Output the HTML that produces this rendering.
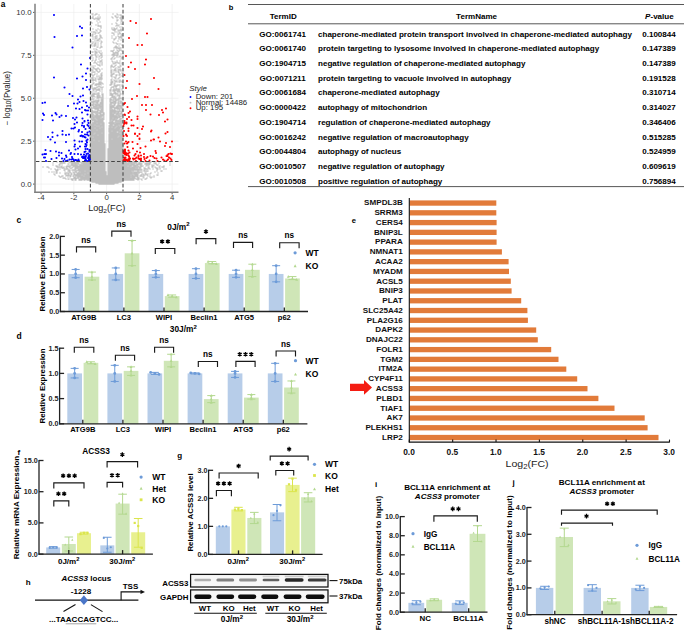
<!DOCTYPE html>
<html><head><meta charset="utf-8"><style>
html,body{margin:0;padding:0;background:#fff;width:685px;height:631px;overflow:hidden}
svg{display:block}
</style></head><body>
<svg width="685" height="631" viewBox="0 0 685 631" font-family='"Liberation Sans", sans-serif' font-weight="bold">
<rect width="685" height="631" fill="#fff"/>
<text x="0.80" y="7.00" font-size="8.3">a</text>
<line x1="41.08" y1="4.00" x2="41.08" y2="191.50" stroke="#ebebeb" stroke-width="0.6"/>
<line x1="73.84" y1="4.00" x2="73.84" y2="191.50" stroke="#ebebeb" stroke-width="0.6"/>
<line x1="106.60" y1="4.00" x2="106.60" y2="191.50" stroke="#ebebeb" stroke-width="0.6"/>
<line x1="139.36" y1="4.00" x2="139.36" y2="191.50" stroke="#ebebeb" stroke-width="0.6"/>
<line x1="172.12" y1="4.00" x2="172.12" y2="191.50" stroke="#ebebeb" stroke-width="0.6"/>
<line x1="35.80" y1="184.10" x2="178.50" y2="184.10" stroke="#ebebeb" stroke-width="0.6"/>
<line x1="35.80" y1="141.17" x2="178.50" y2="141.17" stroke="#ebebeb" stroke-width="0.6"/>
<line x1="35.80" y1="98.25" x2="178.50" y2="98.25" stroke="#ebebeb" stroke-width="0.6"/>
<line x1="35.80" y1="55.32" x2="178.50" y2="55.32" stroke="#ebebeb" stroke-width="0.6"/>
<line x1="35.80" y1="12.40" x2="178.50" y2="12.40" stroke="#ebebeb" stroke-width="0.6"/>
<path d="M115 178h0M101 171h0M117 156h0M113 183h0M93 181h0M98 90h0M102 182h0M101 179h0M118 177h0M117 167h0M93 175h0M101 164h0M117 159h0M118 147h0M96 150h0M120 116h0M110 111h0M90 141h0M92 151h0M112 171h0M114 170h0M97 168h0M116 161h0M102 126h0M98 163h0M122 151h0M115 86h0M100 183h0M98 172h0M104 157h0M118 176h0M95 108h0M118 172h0M89 175h0M103 153h0M112 178h0M114 169h0M102 180h0M98 176h0M97 175h0M103 156h0M99 163h0M115 109h0M116 170h0M101 184h0M119 176h0M94 177h0M105 183h0M100 178h0M112 110h0M111 170h0M117 161h0M119 178h0M111 180h0M117 162h0M118 169h0M122 172h0M122 153h0M115 182h0M113 177h0M115 159h0M112 136h0M94 182h0M103 103h0M90 168h0M117 182h0M98 181h0M112 150h0M97 160h0M101 77h0M98 178h0M111 176h0M111 156h0M118 167h0M100 155h0M91 177h0M117 165h0M94 180h0M116 98h0M118 182h0M95 180h0M122 155h0M98 182h0M101 141h0M121 123h0M101 162h0M90 176h0M122 128h0M96 173h0M120 160h0M101 138h0M110 163h0M112 140h0M121 107h0M101 145h0M95 166h0M113 139h0M95 157h0M103 174h0M92 181h0M113 111h0M100 169h0M110 175h0M93 130h0M110 178h0M101 130h0M114 162h0M97 182h0M99 181h0M110 116h0M123 158h0M122 179h0M113 167h0M94 181h0M105 179h0M96 181h0M103 120h0M100 161h0M106 178h0M99 93h0M111 108h0M120 154h0M102 175h0M122 163h0M117 176h0M92 176h0M110 104h0M104 142h0M122 102h0M97 171h0M108 171h0M98 107h0M104 169h0M124 177h0M102 153h0M121 181h0M94 170h0M111 128h0M99 164h0M111 141h0M115 173h0M114 147h0M97 177h0M105 164h0M123 153h0M111 159h0M123 178h0M109 180h0M92 171h0M121 66h0M100 181h0M91 168h0M112 115h0M90 164h0M122 176h0M95 173h0M121 164h0M110 121h0M94 167h0M94 148h0M98 179h0M91 82h0M97 162h0M101 182h0M101 120h0M95 135h0M114 141h0M123 168h0M98 133h0M100 159h0M91 154h0M118 171h0M113 170h0M116 158h0M109 134h0M119 162h0M115 162h0M94 173h0M113 176h0M119 170h0M112 172h0M109 153h0M105 165h0M117 82h0M93 177h0M100 140h0M100 165h0M104 161h0M96 172h0M120 178h0M105 160h0M103 148h0M101 167h0M108 183h0M100 157h0M118 142h0M103 150h0M94 145h0M114 178h0M110 147h0M95 165h0M113 153h0M95 127h0M98 180h0M105 181h0M119 128h0M108 177h0M93 167h0M110 114h0M108 157h0M99 59h0M104 173h0M119 157h0M95 182h0M114 183h0M115 175h0M102 134h0M123 175h0M111 181h0M109 176h0M102 159h0M110 156h0M111 143h0M119 165h0M110 100h0M110 180h0M113 166h0M95 175h0M102 143h0M111 182h0M100 164h0M101 116h0M104 168h0M91 104h0M118 163h0M111 120h0M112 128h0M109 132h0M113 181h0M90 180h0M91 150h0M92 175h0M123 177h0M102 154h0M123 167h0M117 175h0M94 174h0M114 175h0M117 96h0M101 153h0M111 179h0M112 159h0M119 167h0M108 182h0M123 170h0M113 138h0M112 162h0M108 159h0M102 157h0M110 164h0M119 168h0M98 161h0M103 178h0M97 180h0M104 130h0M123 174h0M109 150h0M111 177h0M92 148h0M108 181h0M96 118h0M109 179h0M98 164h0M92 162h0M108 179h0M99 183h0M94 96h0M102 171h0M103 169h0M121 155h0M114 166h0M120 151h0M96 114h0M119 152h0M95 177h0M118 173h0M103 164h0M101 160h0M95 156h0M90 147h0M91 152h0M96 104h0M100 173h0M96 161h0M102 124h0M118 175h0M104 179h0M92 87h0M122 147h0M101 157h0M101 161h0M102 169h0M107 184h0M103 167h0M98 121h0M108 178h0M99 178h0M120 182h0M123 145h0M105 168h0M112 121h0M91 179h0M95 145h0M108 161h0M99 174h0M109 148h0M102 183h0M120 101h0M122 177h0M96 145h0M98 162h0M113 158h0M99 179h0M121 150h0M105 171h0M99 150h0M106 183h0M111 145h0M91 153h0M99 152h0M116 145h0M99 169h0M104 178h0M118 108h0M120 70h0M92 128h0M109 178h0M101 140h0M96 166h0M99 172h0M103 145h0M112 177h0M121 176h0M105 161h0M112 156h0M116 178h0M99 155h0M114 144h0M93 164h0M106 181h0M111 173h0M98 89h0M119 151h0M93 158h0M123 173h0M97 181h0M102 142h0M116 137h0M96 156h0M94 176h0M98 167h0M104 170h0M104 147h0M120 171h0M108 156h0M114 160h0M91 167h0M110 131h0M115 177h0M117 178h0M118 162h0M102 140h0M113 172h0M115 94h0M109 149h0M93 154h0M96 138h0M97 169h0M92 156h0M90 174h0M116 75h0M104 182h0M116 118h0M102 90h0M111 172h0M90 178h0M98 177h0M106 177h0M103 183h0M98 142h0M120 119h0M94 146h0M96 167h0M91 178h0M100 180h0M92 177h0M92 150h0M100 170h0M120 180h0M104 177h0M91 159h0M109 183h0M110 182h0M121 179h0M103 131h0M111 147h0M97 178h0M102 92h0M100 167h0M104 141h0M108 164h0M107 180h0M96 182h0M116 171h0M117 152h0M116 89h0M94 156h0M112 165h0M101 76h0M123 139h0M100 172h0M111 175h0M92 161h0M92 173h0M97 142h0M115 157h0M101 151h0M112 65h0M115 164h0M117 116h0M95 169h0M93 116h0M111 164h0M96 170h0M110 127h0M124 175h0M115 131h0M120 163h0M104 151h0M102 97h0M90 179h0M114 163h0M96 160h0M117 168h0M121 140h0M105 158h0M97 157h0M102 177h0M122 171h0M110 174h0M118 150h0M118 165h0M124 163h0M117 142h0M115 181h0M97 167h0M114 179h0M95 144h0M92 158h0M115 174h0M92 165h0M110 140h0M116 175h0M93 120h0M101 100h0M108 158h0M122 144h0M94 159h0M115 179h0M117 170h0M101 143h0M112 130h0M119 177h0M113 112h0M97 161h0M102 167h0M117 130h0M120 161h0M115 183h0M94 165h0M107 182h0M112 141h0M105 173h0M105 176h0M123 180h0M96 152h0M123 179h0M97 170h0M120 152h0M110 176h0M115 166h0M122 173h0M110 168h0M103 175h0M115 141h0M110 179h0M107 181h0M103 179h0M93 94h0M102 162h0M91 166h0M96 169h0M103 176h0M118 179h0M121 167h0M90 163h0M120 175h0M115 170h0M112 161h0M104 148h0M103 184h0M120 145h0M115 156h0M98 168h0M95 158h0M114 152h0M112 129h0M114 138h0M119 143h0M94 179h0M120 181h0M91 181h0M115 152h0M119 174h0M109 138h0M109 167h0M93 174h0M91 144h0M115 153h0M104 164h0M96 56h0M122 168h0M111 183h0M123 169h0M97 158h0M112 38h0M112 163h0M103 160h0M92 180h0M116 172h0M100 151h0M102 136h0M122 161h0M110 166h0M117 180h0M116 176h0M115 154h0M122 135h0M101 173h0M95 134h0M109 136h0M111 165h0M114 118h0M96 159h0M93 144h0M116 183h0M98 170h0M114 117h0M117 181h0M107 179h0M94 152h0M103 112h0M93 172h0M121 169h0M105 180h0M94 149h0M98 122h0M94 129h0M101 180h0M115 155h0M90 170h0M109 158h0M102 178h0M123 156h0M94 155h0M111 83h0M102 181h0M123 166h0M119 181h0M96 144h0M106 179h0M119 158h0M109 145h0M93 176h0M121 177h0M105 174h0M104 183h0M91 92h0M91 163h0M114 165h0M113 106h0M101 177h0M98 166h0M94 166h0M110 122h0M96 171h0M117 106h0M113 136h0M103 152h0M104 171h0M114 167h0M110 137h0M110 161h0M95 174h0M122 134h0M120 179h0M100 175h0M96 177h0M120 173h0M117 129h0M109 155h0M122 90h0M105 150h0M110 130h0M91 162h0M124 174h0M102 168h0M100 171h0M113 163h0M113 175h0M93 168h0M104 115h0M118 161h0M98 175h0M101 176h0M110 134h0M103 134h0M113 171h0M120 177h0M119 163h0M119 148h0M100 153h0M92 142h0M110 172h0M102 184h0M105 145h0M101 166h0M110 120h0M119 142h0M118 112h0M97 134h0M91 171h0M103 162h0M114 135h0M111 138h0M112 180h0M113 151h0M95 176h0M109 175h0M96 157h0M93 163h0M105 153h0M118 138h0M90 172h0M109 160h0M91 136h0M115 111h0M91 124h0M92 168h0M117 169h0M94 104h0M97 145h0M122 118h0M121 162h0M124 173h0M119 75h0M115 176h0M112 182h0M109 184h0M117 166h0M97 108h0M115 137h0M102 112h0M113 144h0M109 157h0M120 158h0M109 142h0M104 145h0M116 169h0M99 157h0M113 179h0M110 181h0M109 162h0M123 77h0M108 155h0M91 128h0M93 179h0M117 171h0M100 150h0M99 176h0M98 173h0M119 182h0M99 166h0M97 125h0M113 156h0M102 138h0M104 180h0M104 181h0M110 151h0M119 164h0M105 157h0M111 117h0M101 178h0M108 166h0M124 166h0M104 153h0M110 171h0M118 164h0M110 170h0M120 140h0M113 162h0M102 163h0M115 55h0M111 140h0M94 168h0M92 153h0M111 174h0M122 158h0M95 150h0M99 148h0M103 177h0M119 108h0M116 131h0M95 179h0M92 18h0M93 159h0M120 176h0M104 159h0M92 170h0M108 180h0M93 165h0M110 118h0M96 147h0M114 133h0M113 159h0M95 172h0M93 112h0M118 55h0M103 180h0M97 153h0M122 157h0M104 136h0M118 152h0M95 167h0M101 142h0M103 171h0M91 172h0M95 171h0M103 173h0M113 122h0M105 167h0M104 150h0M118 109h0M97 166h0M97 152h0M112 157h0M101 169h0M114 177h0M117 179h0M121 157h0M90 175h0M96 175h0M121 54h0M95 139h0M90 169h0M122 169h0M108 163h0M114 174h0M114 180h0M113 169h0M89 172h0M100 156h0M93 125h0M101 154h0M103 158h0M100 148h0M112 183h0M111 158h0M114 136h0M98 155h0M90 177h0M113 182h0M119 166h0M121 165h0M116 181h0M115 139h0M105 184h0M104 167h0M92 111h0M115 145h0M104 184h0M115 142h0M116 167h0M118 166h0M92 169h0M105 178h0M99 116h0M100 168h0M97 164h0M90 173h0M100 135h0M101 163h0M111 118h0M119 144h0M109 170h0M103 114h0M120 168h0M120 164h0M109 164h0M108 175h0M96 146h0M122 180h0M110 173h0M94 112h0M102 129h0M101 172h0M116 147h0M114 182h0M121 145h0M90 167h0M110 149h0M121 166h0M120 146h0M120 99h0M96 108h0M115 117h0M93 149h0M104 138h0M103 119h0M109 141h0M93 145h0M115 180h0M102 141h0M118 168h0M105 154h0M114 142h0M102 106h0M94 138h0M120 96h0M99 52h0M110 154h0M118 174h0M96 155h0M101 183h0M93 138h0M94 171h0M94 158h0M91 173h0M94 164h0M101 98h0M111 113h0M112 168h0M98 183h0M101 175h0M98 138h0M122 181h0M104 156h0M91 55h0M91 160h0M117 163h0M100 158h0M110 143h0M95 154h0M100 146h0M113 147h0M122 131h0M116 130h0M114 119h0M102 139h0M104 125h0M93 153h0M101 148h0M123 143h0M109 151h0M94 106h0M101 147h0M92 178h0M102 95h0M100 129h0M121 143h0M118 178h0M93 146h0M123 164h0M116 115h0M122 124h0M99 182h0M109 161h0M102 172h0M97 111h0M111 114h0M112 169h0M115 126h0M122 160h0M91 176h0M100 145h0M94 178h0M118 170h0M94 133h0M103 163h0M119 180h0M95 143h0M95 153h0M100 144h0M96 163h0M122 105h0M120 167h0M121 142h0M111 157h0M100 123h0M112 176h0M117 177h0M97 84h0M122 170h0M117 117h0M117 113h0M120 170h0M93 173h0M116 100h0M96 121h0M91 148h0M121 138h0M90 171h0M116 159h0M112 148h0M116 136h0M102 158h0M101 134h0M112 137h0M119 112h0M90 165h0M98 160h0M99 65h0M118 141h0M94 172h0M113 150h0M113 137h0M97 183h0M120 135h0M115 171h0M121 178h0M99 159h0M117 140h0M109 174h0M100 182h0M96 130h0M120 127h0M90 166h0M98 165h0M93 170h0M111 137h0M120 149h0M111 153h0M120 148h0M96 180h0M98 98h0M96 148h0M101 129h0M112 158h0M110 132h0M104 172h0M102 149h0M119 169h0M121 133h0M111 168h0M123 176h0M114 176h0M94 130h0M95 168h0M96 176h0M121 134h0M115 165h0M117 153h0M113 146h0M96 179h0M115 172h0M115 163h0M115 151h0M109 181h0M109 147h0M102 174h0M103 126h0M114 143h0M109 152h0M98 144h0M97 173h0M117 149h0M97 154h0M100 149h0M98 169h0M93 127h0M91 145h0M110 135h0M95 132h0M96 168h0M122 178h0M101 181h0M116 153h0M112 164h0M113 173h0M111 184h0M97 146h0M105 170h0M123 165h0M92 92h0M113 120h0M119 145h0M104 140h0M102 137h0M113 141h0M112 167h0M121 163h0M117 141h0M121 171h0M95 160h0M91 164h0M112 174h0M114 102h0M117 158h0M119 150h0M116 121h0M94 160h0M91 131h0M108 173h0M103 157h0M99 146h0M114 129h0M101 119h0M91 155h0M119 175h0M97 140h0M102 179h0M94 137h0M100 131h0M104 165h0M111 178h0M90 117h0M103 136h0M120 142h0M110 184h0M98 127h0M93 135h0M121 180h0M113 178h0M112 160h0M114 112h0M117 146h0M92 163h0M112 76h0M98 154h0M110 157h0M105 156h0M115 113h0M113 165h0M98 171h0M109 156h0M96 183h0M97 148h0M120 134h0M91 165h0M96 136h0M103 139h0M97 163h0M102 147h0M91 125h0M113 168h0M105 144h0M102 165h0M103 155h0M101 104h0M93 95h0M93 178h0M98 123h0M90 159h0M116 177h0M111 116h0M103 182h0M100 176h0M118 146h0M105 169h0M93 171h0M116 155h0M119 134h0M112 175h0M115 148h0M95 170h0M117 154h0M118 136h0M100 143h0M103 146h0M99 151h0M115 160h0M115 150h0M98 174h0M98 120h0M114 184h0M105 182h0M104 160h0M99 123h0M112 61h0M105 175h0M96 131h0M90 124h0M114 150h0M121 174h0M116 182h0M116 126h0M112 111h0M111 112h0M92 127h0M120 155h0M117 108h0M92 113h0M100 162h0M108 168h0M95 155h0M98 130h0M96 162h0M96 128h0M99 158h0M96 127h0M91 80h0M121 159h0M99 180h0M97 156h0M101 121h0M119 179h0M101 144h0M89 162h0M92 102h0M91 138h0M103 147h0M101 146h0M91 142h0M121 126h0M122 156h0M97 176h0M103 159h0M102 170h0M111 161h0M102 176h0M100 118h0M106 174h0M110 160h0M119 172h0M103 143h0M112 149h0M117 144h0M94 143h0M116 168h0M94 139h0M110 150h0M98 111h0M109 146h0M112 118h0M114 164h0M93 140h0M111 171h0M99 119h0M122 113h0M115 143h0M121 146h0M113 90h0M114 86h0M102 111h0M103 128h0M103 172h0M111 129h0M93 99h0M113 164h0M111 142h0M118 134h0M112 122h0M97 165h0M108 169h0M115 167h0M91 175h0M113 117h0M99 130h0M116 174h0M94 175h0M89 174h0M114 181h0M98 153h0M90 153h0M95 159h0M117 137h0M99 144h0M114 132h0M107 177h0M105 172h0M110 153h0M95 181h0M98 124h0M91 109h0M112 66h0M118 180h0M91 180h0M115 144h0M115 147h0M102 151h0M97 117h0M123 171h0M116 166h0M92 166h0M121 170h0M95 146h0M100 119h0M108 184h0M122 166h0M121 144h0M109 172h0M104 152h0M104 175h0M117 173h0M93 156h0M116 146h0M94 153h0M121 57h0M99 177h0M97 102h0M100 179h0M103 116h0M108 153h0M101 170h0M117 151h0M112 94h0M101 168h0M116 122h0M96 79h0M98 100h0M98 103h0M101 85h0M90 155h0M108 176h0M116 99h0M94 115h0M118 107h0M93 139h0M110 126h0M116 173h0M96 124h0M120 118h0M112 179h0M98 115h0M103 181h0M89 179h0M99 153h0M110 148h0M113 107h0M101 133h0M100 177h0M99 129h0M114 154h0M121 175h0M98 112h0M112 142h0M100 82h0M118 157h0M118 159h0M100 174h0M115 124h0M119 63h0M115 158h0M95 178h0M114 124h0M117 160h0M99 168h0M97 119h0M98 132h0M103 95h0M95 141h0M102 123h0M115 120h0M103 170h0M115 149h0M116 87h0M101 139h0M101 156h0M99 147h0M92 78h0M115 136h0M117 138h0M105 163h0M119 149h0M94 151h0M117 164h0M114 101h0M114 140h0M104 133h0M111 155h0M119 161h0M91 137h0M116 134h0M112 173h0M98 158h0M114 145h0M121 48h0M112 147h0M117 133h0M101 152h0M122 167h0M110 133h0M123 159h0M113 126h0M98 118h0M118 54h0M95 112h0M103 94h0M114 116h0M99 175h0M118 105h0M92 174h0M117 124h0M104 144h0M94 163h0M117 136h0M120 121h0M108 174h0M97 98h0M118 158h0M105 152h0M95 136h0M111 167h0M100 130h0M111 162h0M113 155h0M113 123h0M102 173h0M118 153h0M122 82h0M116 163h0M110 113h0M110 167h0M120 103h0M116 144h0M114 161h0M112 154h0M123 128h0M105 177h0M120 143h0M91 134h0M122 141h0M118 160h0M123 162h0M98 131h0M94 157h0M112 51h0M122 154h0M111 123h0M93 180h0M95 151h0M123 172h0M96 178h0M103 161h0M117 155h0M97 115h0M102 110h0M108 160h0M98 45h0M109 143h0M92 144h0M115 168h0M91 174h0M120 132h0M122 114h0M97 96h0M111 169h0M99 167h0M102 119h0M93 143h0M121 160h0M92 154h0M97 138h0M109 163h0M112 155h0M95 164h0M112 151h0M113 135h0M97 174h0M110 136h0M106 175h0M93 142h0M109 144h0M101 155h0M111 131h0M99 165h0M110 129h0M117 145h0M112 144h0M102 130h0M91 106h0M118 181h0M121 173h0M102 132h0M100 152h0M92 129h0M110 124h0M104 149h0M110 162h0M114 159h0M98 125h0M118 127h0M89 165h0M117 94h0M109 123h0M110 155h0M101 43h0M116 135h0M110 119h0M117 174h0M106 182h0M113 184h0M98 93h0M116 180h0M93 119h0M105 159h0M103 138h0M113 161h0M102 152h0M121 135h0M96 106h0M97 133h0M99 128h0M118 118h0M116 88h0M114 123h0M101 158h0M120 67h0M123 135h0M118 135h0M121 147h0M114 171h0M116 112h0M100 141h0M114 106h0M101 127h0M121 172h0M99 160h0M110 169h0M93 117h0M91 32h0M104 155h0M99 125h0M103 151h0M118 122h0M93 52h0M111 122h0M93 34h0M99 136h0M107 183h0M111 154h0M114 99h0M103 166h0M91 78h0M114 127h0M112 184h0M96 154h0M109 140h0M109 169h0M103 105h0M122 149h0M120 172h0M93 108h0M119 154h0M93 166h0M95 163h0M98 149h0M115 132h0M97 159h0M100 18h0M103 115h0M116 117h0M91 170h0M95 148h0M119 173h0M100 137h0M101 126h0M111 144h0M114 173h0M94 125h0M114 172h0M97 179h0M91 101h0M103 165h0M91 161h0M116 63h0M115 66h0M100 117h0M114 155h0M119 140h0M97 122h0M110 183h0M97 124h0M94 108h0M93 132h0M89 163h0M103 87h0M102 161h0M92 95h0M114 158h0M100 154h0M104 146h0M102 155h0M104 163h0M91 108h0M94 142h0M93 169h0M113 152h0M119 171h0M99 101h0M106 180h0M98 109h0M93 105h0M99 140h0M110 146h0M109 177h0M111 98h0M91 157h0M108 151h0M112 166h0M116 138h0M120 162h0M120 125h0M94 135h0M114 151h0M120 65h0M96 158h0M96 164h0M96 165h0M110 125h0M115 127h0M97 150h0M92 167h0M91 127h0M108 167h0M118 183h0M102 128h0M109 182h0M102 156h0M99 184h0M89 170h0M99 139h0M124 169h0M94 128h0M116 132h0M101 107h0M123 121h0M96 174h0M113 129h0M121 156h0M99 173h0M121 153h0M120 159h0M120 153h0M115 99h0M95 161h0M114 89h0M91 169h0M115 134h0M108 172h0M119 155h0M92 133h0M115 125h0M103 130h0M117 111h0M110 158h0M122 162h0M89 180h0M94 144h0M109 139h0M116 157h0M118 36h0M115 98h0M92 108h0M93 160h0M109 128h0M122 164h0M119 115h0M113 134h0M101 174h0M103 129h0M118 155h0M94 121h0M92 119h0M112 114h0M120 92h0M112 109h0M96 129h0M103 124h0M91 156h0M97 71h0M102 164h0M116 150h0M90 181h0M94 119h0M122 165h0M112 95h0M93 123h0M114 168h0M97 172h0M92 172h0M94 141h0M95 37h0M121 130h0M121 119h0M120 48h0M104 129h0M91 143h0M93 157h0M116 160h0M112 132h0M104 162h0M109 131h0M96 120h0M120 169h0M107 178h0M112 181h0M122 152h0M109 154h0M94 169h0M92 141h0M119 131h0M97 143h0M117 128h0M120 156h0M96 143h0M118 100h0M110 108h0M105 166h0M102 160h0M120 129h0M105 149h0M118 151h0M119 160h0M124 167h0M90 162h0M111 136h0M115 169h0M112 152h0M104 131h0M91 69h0M116 156h0M115 70h0M109 159h0M103 110h0M98 114h0M121 139h0M99 98h0M123 148h0M101 136h0M116 162h0M112 119h0M122 148h0M118 34h0M120 174h0M93 162h0M112 133h0M110 165h0M116 128h0M99 143h0M102 122h0M115 112h0M109 135h0M99 171h0M91 114h0M96 153h0M113 160h0M108 170h0M119 98h0M116 179h0M96 139h0M119 39h0M102 118h0M112 113h0M120 69h0M118 133h0M110 139h0M111 75h0M120 114h0M121 168h0M120 137h0M111 163h0M115 135h0M97 112h0M124 180h0M123 151h0M124 165h0M116 120h0M101 165h0M110 141h0M120 131h0M104 166h0M120 166h0M98 151h0M111 150h0M92 134h0M90 142h0M92 105h0M114 111h0M112 134h0M92 116h0M113 116h0M117 89h0M123 127h0M99 149h0M117 125h0M101 115h0M118 106h0M92 179h0M121 132h0M123 163h0M119 147h0M91 119h0M110 107h0M99 142h0M117 100h0M99 51h0M113 97h0M110 109h0M92 88h0M103 104h0M102 146h0M115 118h0M93 182h0M119 124h0M102 103h0M101 106h0M111 127h0M119 91h0M113 157h0M92 124h0M95 152h0M92 155h0M117 148h0M99 15h0M94 83h0M101 132h0M104 119h0M122 127h0M103 121h0M119 126h0M97 70h0M92 157h0M113 87h0M122 174h0M109 166h0M103 123h0M101 150h0M95 162h0M103 133h0M111 134h0M103 122h0M120 106h0M101 61h0M102 102h0M92 135h0M119 123h0M93 134h0M98 159h0M104 134h0M111 146h0M119 120h0M92 143h0M116 165h0M103 125h0M97 105h0M119 132h0M94 72h0M116 149h0M91 41h0M113 174h0M114 110h0M100 163h0M113 119h0M94 127h0M121 151h0M105 162h0M98 157h0M100 166h0M107 176h0M113 145h0M96 141h0M121 161h0M115 122h0M122 150h0M90 134h0M100 160h0M101 149h0M115 82h0M112 145h0M92 147h0M103 107h0M121 152h0M93 147h0M124 171h0M102 125h0M98 152h0M124 176h0M117 123h0M119 109h0M114 80h0M111 166h0M90 145h0M90 123h0M97 151h0M99 120h0M121 94h0M102 148h0M92 160h0M118 69h0M117 109h0M96 142h0M108 162h0M120 150h0M114 134h0M94 107h0M102 144h0M101 111h0M109 171h0M123 132h0M116 143h0M100 83h0M92 131h0M114 148h0M92 164h0M101 137h0M115 161h0M123 115h0M94 91h0M98 140h0M113 114h0M94 162h0M110 91h0M115 138h0M91 45h0M119 57h0M94 126h0M112 126h0M92 145h0M113 14h0M91 107h0M122 146h0M94 136h0M119 85h0M114 157h0M117 150h0M101 112h0M98 147h0M115 130h0M98 141h0M97 127h0M123 154h0M95 52h0M124 168h0M100 136h0M91 141h0M98 145h0M95 88h0M95 97h0M99 97h0M106 184h0M110 145h0M117 114h0M108 150h0M121 149h0M121 141h0M104 176h0M100 147h0M118 124h0M119 153h0M95 120h0M113 55h0M101 28h0M94 80h0M116 152h0M116 81h0M98 96h0M119 135h0M113 154h0M99 131h0M95 121h0M118 140h0M115 93h0M93 136h0M92 85h0M121 136h0M120 110h0M123 57h0M101 58h0M99 156h0M115 83h0M122 107h0M112 124h0M111 148h0M118 156h0M94 161h0M124 170h0M110 106h0M122 130h0M103 132h0M91 130h0M112 117h0M119 138h0M114 156h0M112 138h0M109 165h0M121 154h0M109 173h0M99 135h0M114 137h0M97 116h0M112 153h0M97 144h0M104 143h0M122 145h0M113 131h0M93 96h0M121 81h0M111 82h0M124 164h0M111 125h0M116 140h0M120 95h0M100 133h0M96 81h0M95 130h0M120 56h0M104 113h0M112 135h0M110 152h0M114 104h0M115 91h0M92 72h0M100 132h0M121 137h0M94 150h0M103 154h0M116 148h0M97 76h0M103 137h0M93 118h0M99 145h0M106 176h0M91 115h0M93 124h0M104 139h0M110 144h0M91 112h0M120 139h0M109 168h0M101 159h0M121 122h0M111 130h0M123 110h0M99 83h0M99 162h0M94 124h0M93 155h0M116 125h0M116 123h0M116 116h0M97 106h0M97 155h0M118 121h0M120 165h0M112 170h0M99 154h0M94 122h0M104 135h0M117 131h0M92 112h0M98 156h0M97 129h0M113 133h0M101 109h0M111 100h0M112 81h0M112 123h0M101 110h0M122 123h0M105 148h0M118 148h0M97 109h0M112 75h0M117 172h0M114 88h0M114 55h0M94 120h0M120 87h0M98 87h0M99 161h0M111 88h0M90 149h0M96 135h0M99 170h0M112 82h0M119 117h0M97 131h0M95 142h0M103 140h0M94 99h0M112 116h0M118 128h0M123 84h0M113 91h0M122 19h0M116 107h0M99 122h0M118 117h0M119 82h0M93 152h0M93 111h0M117 119h0M92 120h0M114 113h0M121 120h0M95 119h0M118 131h0M91 100h0M113 124h0M99 134h0M102 166h0M93 114h0M97 121h0M103 118h0M120 82h0M92 146h0M119 141h0M124 179h0M100 111h0M119 97h0M92 137h0M118 149h0M111 104h0M97 103h0M123 118h0M93 131h0M117 135h0M119 129h0M92 140h0M110 115h0M122 126h0M95 123h0M114 153h0M100 108h0M96 102h0M91 111h0M117 139h0M102 145h0M117 18h0M98 128h0M98 139h0M90 152h0M93 58h0M122 138h0M92 122h0M95 131h0M102 108h0M100 139h0M122 140h0M116 90h0M110 138h0M96 151h0M91 149h0M94 89h0M120 111h0M98 108h0M96 70h0M113 143h0M114 128h0M111 133h0M96 123h0M97 149h0M113 127h0M119 113h0M102 150h0M98 136h0M103 135h0M113 121h0M92 132h0M119 156h0M121 113h0M99 132h0M111 115h0M118 143h0M113 180h0M112 97h0M118 63h0M117 121h0M103 111h0M96 137h0M99 20h0M115 146h0M116 76h0M93 60h0M101 125h0M96 122h0M113 140h0M121 114h0M109 130h0M111 149h0M118 154h0M95 54h0M108 165h0M122 116h0M124 178h0M118 111h0M99 94h0M119 81h0M119 116h0M102 99h0M99 106h0M95 129h0M93 148h0M94 117h0M118 144h0M97 137h0M101 46h0M89 171h0M115 39h0M100 116h0M98 150h0M105 151h0M95 140h0M116 164h0M111 70h0M112 74h0M122 159h0M100 127h0M93 151h0M93 126h0M92 70h0M122 104h0M105 147h0M117 25h0M122 175h0M111 93h0M96 105h0M122 137h0M99 100h0M116 139h0M100 138h0M118 71h0M91 135h0M98 116h0M100 97h0M113 102h0M95 124h0M91 42h0M94 131h0M122 142h0M111 151h0M95 147h0M89 176h0M96 133h0M118 95h0M116 151h0M112 125h0M114 114h0M104 174h0M102 104h0M111 85h0M102 105h0M123 133h0M99 137h0M91 140h0M97 147h0M98 143h0M119 106h0M122 45h0M110 112h0M114 59h0M97 57h0M93 133h0M97 64h0M89 177h0M122 132h0M104 132h0M121 22h0M98 101h0M117 157h0M113 96h0M122 111h0M96 116h0M118 91h0M96 91h0M121 182h0M114 67h0M115 85h0M90 138h0M119 137h0M96 112h0M120 61h0M96 140h0M102 135h0M117 183h0M115 105h0M118 113h0M92 152h0M98 65h0M91 139h0M114 131h0M121 148h0M119 49h0M101 80h0M92 139h0M92 182h0M92 74h0M101 131h0M102 94h0M98 117h0M96 100h0M92 99h0M100 124h0M119 95h0M104 126h0M113 149h0M116 133h0M96 125h0M100 35h0M121 24h0M101 128h0M112 112h0M116 103h0M116 93h0M113 51h0M102 69h0M115 69h0M102 131h0M93 103h0M104 154h0M114 149h0M99 121h0M92 86h0M99 85h0M120 93h0M100 122h0M118 139h0M111 160h0M95 138h0M99 108h0M97 85h0M103 84h0M120 147h0M110 177h0M113 94h0M113 103h0M103 168h0M102 120h0M110 117h0M103 144h0M93 161h0M92 149h0M116 142h0M120 105h0M97 87h0M104 158h0M96 94h0M106 172h0M102 57h0M99 118h0M123 161h0M112 143h0M123 155h0M96 92h0M113 62h0M93 81h0M119 51h0M117 107h0M117 134h0M113 132h0M111 132h0M120 123h0M98 55h0M116 124h0M103 101h0M94 154h0M111 106h0M123 181h0M122 136h0M110 159h0M118 115h0M99 133h0M122 18h0M110 142h0M113 128h0M92 126h0M118 99h0M101 135h0M118 89h0M108 152h0M115 78h0M95 116h0M121 125h0M92 94h0M110 128h0M91 132h0M103 149h0M97 141h0M99 138h0M121 116h0M117 118h0M102 62h0M101 44h0M118 102h0M100 115h0M120 128h0M99 57h0M116 48h0M121 158h0M121 102h0M98 62h0M101 47h0M92 159h0M104 127h0M100 70h0M98 137h0M113 115h0M120 136h0M91 133h0M117 143h0M117 127h0M95 122h0M99 113h0M120 141h0M97 132h0M96 134h0M103 102h0M92 115h0M120 157h0M116 141h0M114 50h0M111 99h0M119 67h0M95 94h0M96 59h0M123 147h0M100 184h0M99 110h0M98 97h0M94 118h0M114 126h0M96 149h0M120 138h0M117 75h0M120 109h0M100 120h0M92 130h0M117 120h0M90 74h0M94 68h0M113 82h0M123 95h0M119 159h0M92 125h0M119 101h0M95 46h0M95 104h0M102 83h0M102 121h0M114 43h0M117 44h0M103 98h0M120 91h0M91 74h0M90 156h0M122 143h0M111 68h0M120 107h0M123 144h0M93 115h0M103 141h0M96 132h0M123 120h0M100 134h0M111 107h0M123 136h0M110 105h0M90 136h0M96 30h0M104 124h0M90 127h0M92 121h0M102 115h0M118 123h0M114 139h0M118 125h0M112 105h0M110 93h0M111 67h0M102 75h0M121 70h0M111 102h0M123 152h0M96 109h0M114 77h0M92 110h0M98 146h0M97 139h0M114 108h0M119 133h0M95 109h0M121 108h0M101 123h0M91 146h0M92 136h0M99 127h0M119 72h0M123 149h0M114 146h0M119 99h0M120 74h0M103 142h0M122 63h0M106 173h0M98 102h0M119 103h0M116 129h0M120 89h0M91 147h0M124 162h0M103 97h0M113 148h0M117 57h0M122 121h0M115 102h0M116 55h0M113 98h0M100 103h0M116 111h0M102 116h0M111 111h0M119 139h0M91 86h0M111 110h0M114 105h0M116 114h0M94 102h0M97 128h0M121 37h0M92 117h0M100 105h0M96 117h0M99 79h0M92 97h0M116 77h0M119 111h0M109 129h0M117 85h0M118 51h0M116 154h0M99 72h0M114 107h0M118 114h0M114 115h0M94 101h0M93 72h0M102 78h0M123 42h0M105 155h0M91 56h0M103 127h0M96 84h0M95 149h0M103 99h0M108 154h0M111 135h0M120 122h0M117 91h0M95 126h0M93 128h0M120 98h0M112 106h0M115 119h0M116 102h0M100 113h0M122 112h0M119 96h0M101 114h0M119 130h0M118 67h0M102 64h0M93 129h0M100 126h0M97 101h0M112 146h0M122 133h0M114 97h0M115 116h0M123 146h0M116 37h0M100 96h0M114 120h0M91 118h0M99 86h0M105 146h0M93 79h0M103 106h0M117 147h0M100 125h0M114 130h0M103 100h0M100 89h0M93 80h0M99 117h0M100 114h0M118 103h0M96 45h0M116 46h0M94 147h0M96 115h0M118 92h0M103 109h0M100 84h0M111 152h0M115 133h0M111 103h0M96 126h0M91 116h0M90 158h0M89 173h0M91 129h0M121 127h0M94 132h0M97 114h0M110 90h0M97 69h0M116 79h0M101 82h0M92 114h0M104 114h0M99 124h0M119 127h0M123 160h0M101 102h0M114 54h0M90 90h0M91 105h0M95 66h0M92 80h0M115 96h0M98 129h0M91 158h0M119 146h0M104 137h0M91 67h0M118 93h0M100 142h0M94 93h0M99 82h0M101 113h0M95 106h0M111 73h0M93 89h0M95 80h0M91 103h0M101 122h0M115 101h0M113 130h0M99 105h0M113 95h0M119 34h0M122 86h0M95 69h0M115 90h0M118 145h0M93 101h0M122 129h0M112 36h0M94 94h0M98 119h0M115 110h0M121 106h0M121 131h0M98 95h0M95 89h0M110 85h0M97 118h0M93 90h0M113 142h0M123 104h0M95 117h0M101 36h0M94 45h0M91 99h0M111 124h0M95 72h0M116 108h0M116 68h0M112 100h0M93 141h0M97 97h0M96 49h0M101 41h0M121 121h0M97 40h0M95 101h0M109 137h0M93 55h0M100 107h0M115 140h0M118 15h0M95 113h0M111 95h0M122 109h0M96 85h0M98 105h0M89 168h0M100 71h0M116 94h0M120 117h0M93 83h0M112 108h0M112 24h0M111 126h0M110 110h0M118 126h0M112 72h0M113 74h0M110 99h0M97 113h0M93 113h0M118 104h0M111 90h0M91 70h0M97 94h0M111 139h0M101 117h0M112 103h0M93 76h0M102 38h0M111 119h0M122 99h0M102 47h0M121 103h0M113 100h0M100 91h0M98 148h0M95 111h0M112 84h0M111 80h0M97 136h0M109 126h0M116 86h0M93 106h0M122 139h0M100 87h0M117 86h0M98 110h0M92 138h0M111 51h0M122 89h0M98 19h0M115 58h0M92 44h0M121 34h0M116 71h0M104 123h0M114 53h0M96 57h0M91 65h0M98 104h0M93 70h0M122 21h0M101 51h0M113 30h0M121 112h0M112 28h0M102 76h0M93 42h0M102 88h0M97 19h0M121 29h0M97 77h0M116 72h0M102 56h0M115 92h0M96 43h0M110 123h0M102 42h0M95 51h0M93 68h0M92 46h0M92 55h0M98 84h0M100 17h0M98 79h0M116 52h0M99 95h0M93 35h0M120 63h0M119 46h0M96 55h0M93 18h0M96 107h0M122 27h0M119 121h0M113 52h0M118 17h0M97 41h0M116 53h0M103 96h0M115 29h0M94 63h0M121 98h0M121 36h0M116 47h0M120 50h0M93 97h0M100 61h0M103 113h0M118 30h0M100 78h0M96 18h0M116 23h0M100 36h0M121 30h0M96 25h0M102 107h0M100 32h0M93 84h0M98 18h0M117 55h0M91 96h0M100 104h0M115 97h0M114 91h0M98 68h0M99 89h0M114 48h0M98 43h0M120 44h0M100 63h0M100 48h0M117 61h0M98 33h0M118 44h0M118 79h0M98 72h0M100 26h0M116 101h0M95 43h0M119 89h0M95 44h0M112 17h0M100 62h0M95 74h0M97 14h0M96 88h0M99 39h0M99 33h0M96 33h0M93 66h0M122 73h0M121 50h0M94 19h0M122 36h0M95 85h0M100 65h0M111 89h0M93 37h0M90 25h0M96 38h0M97 31h0M96 36h0M114 71h0M93 32h0M113 57h0M100 79h0M116 17h0M122 51h0M119 78h0M97 21h0M121 71h0M95 34h0M92 56h0M121 59h0M101 54h0M114 73h0M115 32h0M100 121h0M96 14h0M98 23h0M96 60h0M122 35h0M98 25h0M118 48h0M123 103h0M101 37h0M114 70h0M114 29h0M91 117h0M100 112h0M122 38h0M95 102h0M102 63h0M116 29h0M113 42h0M91 26h0M116 38h0M123 55h0M102 89h0M120 37h0M117 32h0M117 81h0M98 17h0M120 124h0M115 129h0M121 19h0M111 72h0M119 70h0M114 74h0M92 96h0M114 30h0M94 75h0M110 95h0M101 26h0M122 64h0M101 75h0M112 70h0M120 30h0M99 80h0M93 29h0M92 52h0M115 63h0M90 125h0M117 20h0M103 108h0M110 102h0M100 22h0M101 84h0M97 52h0M93 150h0M92 35h0M110 101h0M99 76h0M115 108h0M104 128h0M111 91h0M102 55h0M98 134h0M115 16h0M111 84h0M121 101h0M112 55h0M115 103h0M120 85h0M94 95h0M113 67h0M118 20h0M123 91h0M117 48h0M101 78h0M98 26h0M99 84h0M115 31h0M114 84h0M93 16h0M95 61h0M98 126h0M112 102h0M119 25h0M118 72h0M95 55h0M98 29h0M100 30h0M121 38h0M102 65h0M97 36h0M97 50h0M112 59h0M92 61h0M99 26h0M113 110h0M94 32h0M112 77h0M122 58h0M118 41h0M113 18h0M117 56h0M104 117h0M95 78h0M122 24h0M114 90h0M95 32h0M118 130h0M98 47h0M97 135h0M95 137h0M114 28h0M100 66h0M93 102h0M112 83h0M119 90h0M122 110h0M119 48h0M94 123h0M112 79h0M120 15h0M113 63h0M93 77h0M121 15h0M93 67h0M119 31h0M118 53h0M101 31h0M121 40h0M122 16h0M116 65h0M96 69h0M123 122h0M102 100h0M101 55h0M100 106h0M122 108h0M116 26h0M100 38h0M122 30h0M113 33h0M119 105h0M95 19h0M119 38h0M122 76h0M116 43h0M97 90h0M118 90h0M94 46h0M93 104h0M102 109h0M115 104h0M119 73h0M113 54h0M116 70h0M102 53h0M111 76h0M97 74h0M99 77h0M112 29h0M95 62h0M115 30h0M108 149h0M117 62h0M93 43h0M118 85h0M91 58h0M121 20h0M100 53h0M100 39h0M114 56h0M114 39h0M112 107h0M120 27h0M114 35h0M117 53h0M120 80h0M93 14h0M120 77h0M117 24h0M118 52h0M97 38h0M111 66h0M94 49h0M117 28h0M97 47h0M93 39h0M115 53h0M102 60h0M99 69h0M121 17h0M118 129h0M93 78h0M101 87h0M117 21h0M96 53h0M91 85h0M96 52h0M120 18h0M116 16h0M120 33h0M117 50h0M120 75h0M112 87h0M92 75h0M101 27h0M111 71h0M119 37h0M98 40h0M114 34h0M115 81h0M101 74h0M92 36h0M111 59h0M96 89h0M122 20h0M102 101h0M120 144h0M112 58h0M95 39h0M99 19h0M99 90h0M100 56h0M112 96h0M92 14h0M118 26h0M96 63h0M91 22h0M115 47h0M102 73h0M114 93h0M123 73h0M122 17h0M121 31h0M102 79h0M122 85h0M114 64h0M95 15h0M95 41h0M94 88h0M97 53h0M114 40h0M92 23h0M112 33h0M111 94h0M99 41h0M117 47h0M123 17h0M101 103h0M119 32h0M117 14h0M93 17h0M115 62h0M130 171h0M84 171h0M125 167h0M138 164h0M128 178h0M78 175h0M126 176h0M76 170h0M147 171h0M149 163h0M87 164h0M136 179h0M85 177h0M86 169h0M88 164h0M79 164h0M126 168h0M65 169h0M57 170h0M82 174h0M84 174h0M66 176h0M125 178h0M88 174h0M56 171h0M82 165h0M156 163h0M83 168h0M89 164h0M88 171h0M82 166h0M147 178h0M69 173h0M85 168h0M141 179h0M75 174h0M75 162h0M80 173h0M125 179h0M138 174h0M132 165h0M79 176h0M127 166h0M134 168h0M75 163h0M155 172h0M130 170h0M84 177h0M48 167h0M68 179h0M54 174h0M85 172h0M126 180h0M141 167h0M85 179h0M49 168h0M56 173h0M87 175h0M57 166h0M128 170h0M131 176h0M127 168h0M128 164h0M88 162h0M130 167h0M135 173h0M155 163h0M89 166h0M125 163h0M157 175h0M130 163h0M87 171h0M79 179h0M150 177h0M126 166h0M157 171h0M68 177h0M87 169h0M132 168h0M149 168h0M83 169h0M148 165h0M82 180h0M87 176h0M56 166h0M63 176h0M140 165h0M136 162h0M78 162h0M131 179h0M60 177h0M125 172h0M147 163h0M66 169h0M85 167h0M127 174h0M125 162h0M128 174h0M130 173h0M136 166h0M135 176h0M142 172h0M133 177h0M130 177h0M137 176h0M125 168h0M76 163h0M134 167h0M80 170h0M130 180h0M87 170h0M80 179h0M86 171h0M126 177h0M89 169h0M128 172h0M134 176h0M146 164h0M131 171h0M132 169h0M73 167h0M126 169h0M86 179h0M134 166h0M80 174h0M47 167h0M126 178h0M170 165h0M82 178h0M60 165h0M86 168h0M137 162h0M145 173h0M81 172h0M126 167h0M149 164h0M136 174h0M79 173h0M127 178h0M133 167h0M77 176h0M77 174h0M77 175h0M61 162h0M140 170h0M70 170h0M88 170h0M79 169h0M126 174h0M73 170h0M88 180h0M135 168h0M80 177h0M128 176h0M131 163h0M84 165h0M75 175h0M69 164h0M160 169h0M129 178h0M83 167h0M85 162h0M125 165h0M127 169h0M128 165h0M132 173h0M88 175h0M85 165h0M129 170h0M86 165h0M129 165h0M88 178h0M125 174h0M83 176h0M81 177h0M146 173h0M75 179h0M125 175h0M88 172h0M85 178h0M60 167h0M81 174h0M87 173h0M125 180h0M53 165h0M86 163h0M87 163h0M70 172h0M147 169h0M125 170h0M134 162h0M131 169h0M73 180h0M75 172h0M133 164h0M58 169h0M81 176h0M142 180h0M82 163h0M57 171h0M79 174h0M71 175h0M141 175h0M142 174h0M65 174h0M134 180h0M84 164h0M129 173h0M83 164h0M127 170h0M83 173h0M129 164h0M67 173h0M128 177h0M67 168h0M81 178h0M150 164h0M126 172h0M127 165h0M131 165h0M76 169h0M137 170h0M78 174h0M135 170h0M143 174h0M125 177h0M89 167h0M76 164h0M129 168h0M88 176h0M72 168h0M62 166h0M153 167h0M83 174h0M137 174h0M136 165h0M135 177h0M130 175h0M130 168h0M87 172h0M129 169h0M87 167h0M84 168h0M77 167h0M85 176h0M86 170h0M127 179h0M127 167h0M86 167h0M127 180h0M134 173h0M69 166h0M88 177h0M140 164h0M125 173h0M76 176h0M81 167h0M135 175h0M144 171h0M144 162h0M135 172h0M64 170h0M128 163h0M148 174h0M130 165h0M136 175h0M73 179h0M81 169h0M128 173h0M78 164h0M126 173h0M55 175h0M67 169h0M131 170h0M81 165h0M84 173h0M71 174h0M135 163h0M52 172h0M81 166h0M125 164h0M76 172h0M138 169h0M126 165h0M144 175h0M81 162h0M77 178h0M137 173h0M86 162h0M74 175h0M74 166h0M83 179h0M153 169h0M88 179h0M65 178h0M83 175h0M79 172h0M66 173h0M65 171h0M138 166h0M151 178h0M75 171h0M82 170h0M74 178h0M141 172h0M131 178h0M88 168h0M75 165h0M126 170h0M64 163h0M72 162h0M79 177h0M132 164h0M132 162h0M138 171h0M77 171h0M134 177h0M127 175h0M131 168h0M163 167h0M88 167h0M129 179h0M72 180h0M126 164h0M77 163h0M61 177h0M85 164h0M135 162h0M72 170h0M132 178h0M79 166h0M54 172h0M85 175h0M88 166h0M57 172h0M74 173h0M76 167h0M82 171h0M133 178h0M130 166h0M63 163h0M82 167h0M86 175h0M80 168h0M127 173h0M156 164h0M69 171h0M141 170h0M83 166h0M157 169h0M43 167h0M79 180h0M148 169h0M133 176h0M130 176h0M124 172h0M152 167h0M83 177h0M129 176h0M62 168h0M141 164h0M82 177h0M88 163h0M87 174h0M132 163h0M132 172h0M131 174h0M86 172h0M62 164h0M133 173h0M84 166h0M55 169h0M132 179h0M138 170h0M137 165h0M68 173h0M130 172h0M125 176h0M84 163h0M77 162h0M75 166h0M140 172h0M87 166h0M83 178h0M87 168h0M84 172h0M125 171h0M134 172h0M86 166h0M129 180h0M78 176h0M133 179h0M71 164h0M148 171h0M65 163h0M126 163h0M84 170h0M134 164h0M136 173h0M139 179h0M129 167h0M154 176h0M125 169h0M132 175h0M128 167h0M143 162h0M70 171h0M73 163h0M136 176h0M128 169h0M73 164h0M82 169h0M146 166h0M66 179h0M73 172h0M162 171h0M133 171h0M68 176h0M69 179h0M139 162h0M136 169h0M130 179h0M146 179h0M68 166h0M64 162h0M68 171h0M141 169h0M86 176h0M79 170h0M76 179h0M132 170h0M77 165h0M82 168h0M127 177h0M78 168h0M60 173h0M72 163h0M78 178h0M128 168h0M133 170h0M83 163h0M137 167h0M135 174h0M138 175h0M65 173h0M85 170h0M136 170h0M132 174h0M158 175h0M128 179h0M130 162h0M160 166h0M59 165h0M82 173h0M146 163h0M138 180h0M79 171h0M125 166h0M138 167h0M133 162h0M130 178h0M129 163h0M137 169h0M141 165h0M70 162h0M150 163h0M70 166h0M126 179h0M86 174h0M72 164h0M71 179h0M58 170h0M75 168h0M138 178h0M143 176h0M138 176h0M76 175h0M80 167h0M159 163h0M82 172h0M137 172h0M79 167h0M138 179h0M127 164h0M133 168h0M131 162h0M151 162h0M81 168h0M142 164h0M134 174h0M80 180h0M89 178h0M68 164h0M150 169h0M129 166h0M159 167h0M132 167h0M135 169h0M164 166h0M129 175h0M152 177h0M150 162h0M145 179h0M88 169h0M147 175h0M156 168h0M85 163h0M74 165h0M83 165h0M140 176h0M71 166h0M127 176h0M62 167h0M133 180h0M155 167h0M148 167h0M132 177h0M87 165h0M147 165h0M81 171h0M146 174h0M139 170h0M84 179h0M83 172h0M75 167h0M130 169h0M84 175h0M87 180h0M136 163h0M78 177h0M142 170h0M76 168h0M144 177h0M128 180h0M86 173h0M60 169h0M136 172h0M85 173h0M127 172h0M81 175h0M63 178h0M133 175h0M71 168h0M78 170h0M126 175h0M86 177h0M69 175h0M131 166h0M73 176h0M56 170h0M139 169h0M157 165h0M129 171h0M74 170h0M69 167h0M87 162h0M81 164h0M84 167h0M73 166h0M75 169h0M76 166h0M80 165h0M86 178h0M62 176h0M129 177h0M76 178h0M137 175h0M81 180h0M144 168h0M129 162h0M79 162h0M64 178h0M142 166h0M77 166h0M127 163h0M71 162h0M66 167h0M60 163h0M164 169h0M135 178h0M128 171h0M150 176h0M129 172h0M146 169h0M128 175h0M145 175h0M141 163h0M137 168h0M152 165h0M139 172h0M84 178h0M74 174h0M59 167h0M134 163h0M154 177h0M71 176h0M137 179h0M126 162h0M146 171h0M80 176h0M140 168h0M63 168h0M144 170h0M151 173h0M145 169h0M83 171h0M69 170h0M81 170h0M166 169h0M64 167h0M88 165h0M49 172h0M87 177h0M78 166h0M134 178h0M70 177h0M148 163h0M70 176h0M75 177h0M134 169h0M149 167h0M141 176h0M79 175h0M140 167h0M68 175h0M87 179h0M75 180h0M83 170h0M135 166h0M80 162h0M74 163h0M69 174h0M150 174h0M138 177h0M51 169h0M139 167h0M132 180h0M141 166h0M138 165h0M77 168h0M81 173h0M82 176h0M158 165h0M83 162h0M148 176h0M78 169h0M139 178h0M58 167h0M139 164h0M78 163h0M86 164h0M67 166h0M136 167h0M154 165h0M71 173h0M157 170h0M72 179h0M59 176h0M126 171h0M60 164h0M131 164h0M145 171h0M143 178h0M80 166h0M76 165h0M161 171h0M134 165h0M61 163h0M74 177h0M80 169h0M164 167h0M145 164h0M140 163h0M62 162h0M85 166h0M73 165h0M133 165h0M69 162h0M67 167h0M84 169h0M157 168h0M138 172h0M80 171h0M131 173h0M127 171h0M80 175h0M147 164h0M130 174h0M153 166h0M75 164h0M133 169h0M139 163h0M87 178h0M82 179h0M139 173h0M57 173h0M81 179h0M131 172h0M53 163h0M137 164h0M137 177h0M131 180h0M85 169h0M158 169h0M142 176h0M72 165h0M135 165h0M57 162h0M84 180h0M61 167h0M74 162h0M145 168h0M76 180h0M134 179h0M129 174h0M143 166h0M70 168h0M67 175h0M170 163h0M135 167h0M78 173h0M77 173h0M134 170h0M64 168h0M85 180h0M84 162h0M149 165h0M152 166h0M72 174h0M57 167h0M78 167h0M162 167h0M66 175h0M160 168h0M132 176h0M75 178h0M158 173h0M68 169h0M154 163h0" stroke="#bebebe" stroke-width="1.5" stroke-linecap="round" fill="none"/>
<path d="M86.5 154h0M62.5 131h0M89.5 157h0M78 154h0M86 160h0M55 142.5h0M44 115h0M87.5 132.5h0M88.5 156h0M50.5 139.5h0M82 112.5h0M77 122.5h0M89 107.5h0M88.5 126h0M76 160h0M62 158.5h0M82 157h0M81.5 135.5h0M76 108.5h0M85 160.5h0M57.5 135.5h0M64.5 159h0M68 106h0M59.5 117h0M73.5 159.5h0M42.5 120h0M83 158h0M85.5 156.5h0M75 119.5h0M69 150.5h0M86.5 140.5h0M79.5 109h0M87 106h0M79 130h0M88 153.5h0M89.5 150h0M89.5 150.5h0M66 142h0M74 103.5h0M51.5 159h0M86 146.5h0M74.5 146.5h0M75 144.5h0M88 158h0M85.5 151.5h0M69 134.5h0M85.5 137.5h0M73 118h0M45 157.5h0M72.5 158.5h0M78.5 159.5h0M85.5 149h0M87 142.5h0M52.5 132.5h0M89 159.5h0M43 113.5h0M45.5 150h0M74.5 154h0M87.5 125h0M82 107.5h0M56 151.5h0M46 161h0M50.5 151h0M85 134.5h0M79.5 141.5h0M84 158h0M56.5 158h0M63.5 161h0M76.5 117.5h0M89.5 160.5h0M73.5 128.5h0M44 157.5h0M52 115.5h0M87 134.5h0M88 161h0M85.5 159h0M71 153h0M53 120.5h0M42.5 103h0M59 155.5h0M46 154h0M84.5 121.5h0M82 141.5h0M79.5 102h0M84 126h0M75.5 160h0M75.5 149.5h0M52.5 137h0M78.5 131.5h0M90 159.5h0M84.5 121h0M84 127h0M82.5 123h0M83.5 101h0M82.5 136.5h0M74.5 140.5h0M85.5 129h0M74 161h0M66.5 157h0M88 120.5h0M86 156h0M74.5 124h0M85 110h0M48 137h0M75 127.5h0M87.5 139.5h0M84.5 137h0M86 110.5h0M89.5 151.5h0M84 154.5h0M72 157h0M45 102.5h0M82 125.5h0M82.5 118.5h0M44.5 154h0M88.5 135.5h0M85 156.5h0M66 155.5h0M86.5 145h0M62.5 134.5h0M89.5 155h0M55.5 113h0M85.5 157h0M67.5 160.5h0M59 152.5h0M66 161h0M85 146.5h0M69.5 159.5h0M66 135h0M89.5 161h0M80.5 136h0M84.5 152h0M70.5 154h0M42.5 154.5h0M87.5 149h0M90 158h0M89.5 131.5h0M89.5 155.5h0M89.5 128h0M86.5 141h0M61.5 153h0M61.5 115.5h0M88 110.5h0M82 132h0M87.5 114.5h0M80 146.5h0M71.5 159.5h0M86 102.5h0M66 116h0M85.5 144h0M88.5 123h0M81 154.5h0M79 161h0M77.5 103.5h0M83 156.5h0M56.5 114.5h0M78 148.5h0M77.5 160.5h0M83 136h0M71.5 128.5h0M87 161h0M85.5 158h0M54 15h0M54.5 37h0M80 26.5h0M82 28h0M77 36h0M82 35.5h0M72.5 47.5h0M90 58h0M81 64.5h0M87.5 68.5h0M54 77.5h0M77 78.5h0M82.5 76.5h0M86 73.5h0M86 80h0M64.5 87.5h0M69.5 94h0M72.5 96h0M83 88.5h0M87 87h0M89.5 89.5h0M80.5 96.5h0M83 95.5h0M78 99.5h0" stroke="#0000ff" stroke-width="2.1" stroke-linecap="round" fill="none"/>
<path d="M151 131.5h0M166.5 156h0M133.5 159.5h0M150.5 156h0M128 161h0M129.5 160h0M129.5 152.5h0M163 159.5h0M126 134.5h0M123.5 152.5h0M129.5 158h0M128.5 142h0M153.5 139.5h0M125 154h0M124.5 143.5h0M144 154h0M153 156.5h0M123.5 160h0M156 153h0M141 160.5h0M124.5 160h0M128.5 155.5h0M128 160.5h0M141 155.5h0M146 110h0M164.5 160.5h0M130 111.5h0M126.5 160h0M133 158.5h0M125.5 152.5h0M169 157.5h0M131.5 120h0M140 152.5h0M128.5 150.5h0M163 112.5h0M128 153.5h0M135 134h0M125.5 160.5h0M124.5 161h0M138.5 156.5h0M124 157.5h0M171.5 160h0M125 151.5h0M126 153h0M129 156.5h0M139.5 159h0M137.5 136h0M172 141.5h0M129.5 159.5h0M123.5 153h0M130 158.5h0M155.5 151h0M126 154.5h0M165 121.5h0M133 148.5h0M147.5 157h0M129 117h0M131.5 125.5h0M167.5 132h0M134.5 155.5h0M132.5 142h0M138.5 158.5h0M124.5 114.5h0M141 158.5h0M167.5 156h0M123.5 161h0M126.5 154.5h0M162 110h0M143 126.5h0M170.5 158.5h0M144 157h0M145.5 146.5h0M127 119h0M157.5 161h0M124 104h0M127.5 107h0M127.5 161h0M149.5 160.5h0M128.5 113h0M128 142.5h0M139.5 138.5h0M142 105h0M133.5 125.5h0M124 131h0M167.5 119.5h0M126.5 153.5h0M123.5 126h0M170 147h0M165 146h0M167.5 155h0M125 150.5h0M160 141.5h0M126 141.5h0M124.5 121h0M146 105h0M123.5 136h0M126 154h0M125 154.5h0M137 151.5h0M137.5 116.5h0M140.5 148h0M125.5 157.5h0M124.5 153.5h0M168 159.5h0M171.5 154h0M137.5 119h0M127.5 147h0M172 154h0M127 136h0M139.5 139h0M129.5 159h0M125 160h0M127 143.5h0M136.5 157.5h0M124 124h0M124.5 158h0M126.5 123.5h0M126.5 155h0M123.5 151h0M137.5 144h0M165.5 133.5h0M159 115h0M146.5 158h0M125 149.5h0M125 103h0M166 108.5h0M144.5 159h0M168.5 154h0M128.5 159h0M126.5 122.5h0M128.5 128.5h0M167 160.5h0M142 129h0M141 160h0M170.5 153.5h0M156.5 158.5h0M123.5 160.5h0M126.5 135.5h0M152 105h0M154.5 158h0M139.5 134h0M134 159h0M150.5 114.5h0M145.5 161h0M161.5 157.5h0M135.5 154h0M135 133.5h0M136 161h0M154 139.5h0M126 159.5h0M151 140.5h0M127.5 160.5h0M158.5 137.5h0M135.5 158.5h0M151.5 130.5h0M137.5 128h0M128.5 131h0M166 143h0M138.5 155.5h0M124.5 123.5h0M125 115h0M124.5 122.5h0M151 19h0M130.5 21h0M136 23h0M147 33.5h0M129 38h0M137.5 45h0M142 45h0M126 56h0M146 59.5h0M131 62.5h0M145 64.5h0M128.5 67h0M135 69h0M124.5 75h0M154 78h0M127 81h0M139.5 84h0M126 88h0M158.5 89h0M137 96h0M145 97h0M147.5 97h0M132 99h0" stroke="#ff0000" stroke-width="2.1" stroke-linecap="round" fill="none"/>
<line x1="90.40" y1="4.00" x2="90.40" y2="191.50" stroke="#444" stroke-width="1.05" stroke-dasharray="3.6 2.2"/>
<line x1="123.00" y1="4.00" x2="123.00" y2="191.50" stroke="#444" stroke-width="1.05" stroke-dasharray="3.6 2.2"/>
<line x1="35.80" y1="161.40" x2="178.50" y2="161.40" stroke="#444" stroke-width="1.05" stroke-dasharray="3.6 2.2"/>
<line x1="35.00" y1="3.80" x2="35.00" y2="193.00" stroke="#7f7f7f" stroke-width="1.5"/>
<line x1="34.30" y1="192.30" x2="178.50" y2="192.30" stroke="#7f7f7f" stroke-width="1.5"/>
<line x1="33.00" y1="184.10" x2="34.30" y2="184.10" stroke="#333" stroke-width="0.8"/>
<text x="0.00" y="0.00" font-size="7.0" font-weight="normal" fill="#333" text-anchor="end" transform="translate(31.60 186.55) scale(1.12 1)">0.0</text>
<line x1="33.00" y1="141.17" x2="34.30" y2="141.17" stroke="#333" stroke-width="0.8"/>
<text x="0.00" y="0.00" font-size="7.0" font-weight="normal" fill="#333" text-anchor="end" transform="translate(31.60 143.62) scale(1.12 1)">2.5</text>
<line x1="33.00" y1="98.25" x2="34.30" y2="98.25" stroke="#333" stroke-width="0.8"/>
<text x="0.00" y="0.00" font-size="7.0" font-weight="normal" fill="#333" text-anchor="end" transform="translate(31.60 100.70) scale(1.12 1)">5.0</text>
<line x1="33.00" y1="55.32" x2="34.30" y2="55.32" stroke="#333" stroke-width="0.8"/>
<text x="0.00" y="0.00" font-size="7.0" font-weight="normal" fill="#333" text-anchor="end" transform="translate(31.60 57.77) scale(1.12 1)">7.5</text>
<line x1="33.00" y1="12.40" x2="34.30" y2="12.40" stroke="#333" stroke-width="0.8"/>
<text x="0.00" y="0.00" font-size="7.0" font-weight="normal" fill="#333" text-anchor="end" transform="translate(31.60 14.85) scale(1.12 1)">10.0</text>
<line x1="41.08" y1="193.00" x2="41.08" y2="194.30" stroke="#333" stroke-width="0.8"/>
<text x="0.00" y="0.00" font-size="7.0" font-weight="normal" fill="#333" text-anchor="middle" transform="translate(41.08 200.20) scale(1.12 1)">-4</text>
<line x1="73.84" y1="193.00" x2="73.84" y2="194.30" stroke="#333" stroke-width="0.8"/>
<text x="0.00" y="0.00" font-size="7.0" font-weight="normal" fill="#333" text-anchor="middle" transform="translate(73.84 200.20) scale(1.12 1)">-2</text>
<line x1="106.60" y1="193.00" x2="106.60" y2="194.30" stroke="#333" stroke-width="0.8"/>
<text x="0.00" y="0.00" font-size="7.0" font-weight="normal" fill="#333" text-anchor="middle" transform="translate(106.60 200.20) scale(1.12 1)">0</text>
<line x1="139.36" y1="193.00" x2="139.36" y2="194.30" stroke="#333" stroke-width="0.8"/>
<text x="0.00" y="0.00" font-size="7.0" font-weight="normal" fill="#333" text-anchor="middle" transform="translate(139.36 200.20) scale(1.12 1)">2</text>
<line x1="172.12" y1="193.00" x2="172.12" y2="194.30" stroke="#333" stroke-width="0.8"/>
<text x="0.00" y="0.00" font-size="7.0" font-weight="normal" fill="#333" text-anchor="middle" transform="translate(172.12 200.20) scale(1.12 1)">4</text>
<text x="0" y="0" font-size="8.2" font-weight="normal" fill="#222" text-anchor="middle" transform="translate(9.5 98.2) rotate(-90) scale(0.97 1)">&#8722; log<tspan font-size="6.6" dy="1.9">10</tspan><tspan dy="-1.9">(Pvalue)</tspan></text>
<text x="0" y="0" font-size="8.3" font-weight="normal" fill="#222" text-anchor="middle" transform="translate(106.7 210.7) scale(1.1 1)">Log<tspan font-size="6" dy="1.8">2</tspan><tspan dy="-1.8">(FC)</tspan></text>
<text x="0.00" y="0.00" font-size="7.3" font-weight="normal" font-style="italic" fill="#1a1a1a" transform="translate(189.30 90.80) scale(1.08 1)">Style</text>
<circle cx="190.5" cy="97.00" r="0.95" fill="#0000ff"/>
<text x="0.00" y="0.00" font-size="6.4" font-weight="normal" fill="#1a1a1a" transform="translate(195.70 98.95) scale(1.23 1)">Down: 201</text>
<circle cx="190.5" cy="102.65" r="0.95" fill="#bdbdbd"/>
<text x="0.00" y="0.00" font-size="6.4" font-weight="normal" fill="#1a1a1a" transform="translate(195.70 104.60) scale(1.23 1)">Normal: 14486</text>
<circle cx="190.5" cy="108.30" r="0.95" fill="#ff0000"/>
<text x="0.00" y="0.00" font-size="6.4" font-weight="normal" fill="#1a1a1a" transform="translate(195.70 110.25) scale(1.23 1)">Up: 195</text>
<text x="228.70" y="10.00" font-size="7.5">b</text>
<line x1="248.00" y1="4.50" x2="684.00" y2="4.50" stroke="#444" stroke-width="0.9"/>
<line x1="248.00" y1="23.80" x2="684.00" y2="23.80" stroke="#444" stroke-width="0.9"/>
<line x1="248.00" y1="186.60" x2="684.00" y2="186.60" stroke="#444" stroke-width="0.9"/>
<text x="283.20" y="19.20" font-size="8.05" text-anchor="middle">TermID</text>
<text x="476.60" y="19.20" font-size="8.05" text-anchor="middle">TermName</text>
<text x="659.4" y="19.2" font-size="8.05" text-anchor="middle"><tspan font-style="italic">P</tspan>-value</text>
<text x="282.60" y="36.60" font-size="8.05" text-anchor="middle">GO:0061741</text>
<text x="318.00" y="36.60" font-size="8.05">chaperone-mediated protein transport involved in chaperone-mediated autophagy</text>
<text x="659.00" y="36.60" font-size="8.05" text-anchor="middle">0.100844</text>
<text x="282.60" y="51.32" font-size="8.05" text-anchor="middle">GO:0061740</text>
<text x="318.00" y="51.32" font-size="8.05">protein targeting to lysosome involved in chaperone-mediated autophagy</text>
<text x="659.00" y="51.32" font-size="8.05" text-anchor="middle">0.147389</text>
<text x="282.60" y="66.04" font-size="8.05" text-anchor="middle">GO:1904715</text>
<text x="318.00" y="66.04" font-size="8.05">negative regulation of chaperone-mediated autophagy</text>
<text x="659.00" y="66.04" font-size="8.05" text-anchor="middle">0.147389</text>
<text x="282.60" y="80.76" font-size="8.05" text-anchor="middle">GO:0071211</text>
<text x="318.00" y="80.76" font-size="8.05">protein targeting to vacuole involved in autophagy</text>
<text x="659.00" y="80.76" font-size="8.05" text-anchor="middle">0.191528</text>
<text x="282.60" y="95.48" font-size="8.05" text-anchor="middle">GO:0061684</text>
<text x="318.00" y="95.48" font-size="8.05">chaperone-mediated autophagy</text>
<text x="659.00" y="95.48" font-size="8.05" text-anchor="middle">0.310714</text>
<text x="282.60" y="110.20" font-size="8.05" text-anchor="middle">GO:0000422</text>
<text x="318.00" y="110.20" font-size="8.05">autophagy of mitochondrion</text>
<text x="659.00" y="110.20" font-size="8.05" text-anchor="middle">0.314027</text>
<text x="282.60" y="124.92" font-size="8.05" text-anchor="middle">GO:1904714</text>
<text x="318.00" y="124.92" font-size="8.05">regulation of chaperone-mediated autophagy</text>
<text x="659.00" y="124.92" font-size="8.05" text-anchor="middle">0.346406</text>
<text x="282.60" y="139.64" font-size="8.05" text-anchor="middle">GO:0016242</text>
<text x="318.00" y="139.64" font-size="8.05">negative regulation of macroautophagy</text>
<text x="659.00" y="139.64" font-size="8.05" text-anchor="middle">0.515285</text>
<text x="282.60" y="154.36" font-size="8.05" text-anchor="middle">GO:0044804</text>
<text x="318.00" y="154.36" font-size="8.05">autophagy of nucleus</text>
<text x="659.00" y="154.36" font-size="8.05" text-anchor="middle">0.524959</text>
<text x="282.60" y="169.08" font-size="8.05" text-anchor="middle">GO:0010507</text>
<text x="318.00" y="169.08" font-size="8.05">negative regulation of autophagy</text>
<text x="659.00" y="169.08" font-size="8.05" text-anchor="middle">0.609619</text>
<text x="282.60" y="183.80" font-size="8.05" text-anchor="middle">GO:0010508</text>
<text x="318.00" y="183.80" font-size="8.05">positive regulation of autophagy</text>
<text x="659.00" y="183.80" font-size="8.05" text-anchor="middle">0.756894</text>
<text x="16.60" y="223.00" font-size="8.5">c</text>
<text x="178.40" y="229.50" font-size="8.3" text-anchor="middle">0J/m<tspan font-size="6" dy="-3.3">2</tspan></text>
<line x1="60.40" y1="235.80" x2="60.40" y2="312.10" stroke="#222" stroke-width="1.3"/>
<line x1="60.40" y1="311.50" x2="64.90" y2="311.50" stroke="#222" stroke-width="1.3"/>
<text x="59.20" y="314.00" font-size="7.2" fill="#222" text-anchor="end">0.0</text>
<line x1="60.40" y1="292.73" x2="64.90" y2="292.73" stroke="#222" stroke-width="1.3"/>
<text x="59.20" y="295.23" font-size="7.2" fill="#222" text-anchor="end">0.5</text>
<line x1="60.40" y1="273.95" x2="64.90" y2="273.95" stroke="#222" stroke-width="1.3"/>
<text x="59.20" y="276.45" font-size="7.2" fill="#222" text-anchor="end">1.0</text>
<line x1="60.40" y1="255.18" x2="64.90" y2="255.18" stroke="#222" stroke-width="1.3"/>
<text x="59.20" y="257.68" font-size="7.2" fill="#222" text-anchor="end">1.5</text>
<line x1="60.40" y1="236.40" x2="64.90" y2="236.40" stroke="#222" stroke-width="1.3"/>
<text x="59.20" y="238.90" font-size="7.2" fill="#222" text-anchor="end">2.0</text>
<text x="45" y="274" font-size="7.9" text-anchor="middle" transform="rotate(-90 45 274)">Relative Expression</text>
<rect x="68.30" y="273.95" width="14.70" height="37.55" fill="#b7cde9"/>
<rect x="84.60" y="276.69" width="14.70" height="34.81" fill="#cfe6b7"/>
<line x1="75.65" y1="269.44" x2="75.65" y2="277.70" stroke="#6d9bd8" stroke-width="1.0"/>
<line x1="71.65" y1="269.44" x2="79.65" y2="269.44" stroke="#6d9bd8" stroke-width="1.0"/>
<line x1="71.65" y1="277.70" x2="79.65" y2="277.70" stroke="#6d9bd8" stroke-width="1.0"/>
<line x1="91.95" y1="272.07" x2="91.95" y2="279.96" stroke="#b3d88f" stroke-width="1.0"/>
<line x1="87.95" y1="272.07" x2="95.95" y2="272.07" stroke="#b3d88f" stroke-width="1.0"/>
<line x1="87.95" y1="279.96" x2="95.95" y2="279.96" stroke="#b3d88f" stroke-width="1.0"/>
<circle cx="75.65" cy="269.44" r="1.40" fill="#6d9bd8"/>
<circle cx="75.65" cy="273.95" r="1.40" fill="#6d9bd8"/>
<circle cx="75.65" cy="277.70" r="1.40" fill="#6d9bd8"/>
<path d="M91.95 270.53L93.35 273.19L90.55 273.19Z" fill="#b3d88f"/>
<path d="M91.95 275.15L93.35 277.81L90.55 277.81Z" fill="#b3d88f"/>
<path d="M91.95 278.42L93.35 281.08L90.55 281.08Z" fill="#b3d88f"/>
<text x="83.80" y="319.70" font-size="7.6" text-anchor="middle">ATG9B</text>
<rect x="108.40" y="273.95" width="14.70" height="37.55" fill="#b7cde9"/>
<rect x="124.70" y="253.30" width="14.70" height="58.20" fill="#cfe6b7"/>
<line x1="115.75" y1="267.94" x2="115.75" y2="279.96" stroke="#6d9bd8" stroke-width="1.0"/>
<line x1="111.75" y1="267.94" x2="119.75" y2="267.94" stroke="#6d9bd8" stroke-width="1.0"/>
<line x1="111.75" y1="279.96" x2="119.75" y2="279.96" stroke="#6d9bd8" stroke-width="1.0"/>
<line x1="132.05" y1="240.53" x2="132.05" y2="265.69" stroke="#b3d88f" stroke-width="1.0"/>
<line x1="128.05" y1="240.53" x2="136.05" y2="240.53" stroke="#b3d88f" stroke-width="1.0"/>
<line x1="128.05" y1="265.69" x2="136.05" y2="265.69" stroke="#b3d88f" stroke-width="1.0"/>
<circle cx="115.75" cy="267.94" r="1.40" fill="#6d9bd8"/>
<circle cx="115.75" cy="273.95" r="1.40" fill="#6d9bd8"/>
<circle cx="115.75" cy="279.96" r="1.40" fill="#6d9bd8"/>
<path d="M132.05 238.99L133.45 241.65L130.65 241.65Z" fill="#b3d88f"/>
<path d="M132.05 251.76L133.45 254.42L130.65 254.42Z" fill="#b3d88f"/>
<path d="M132.05 264.15L133.45 266.81L130.65 266.81Z" fill="#b3d88f"/>
<text x="123.90" y="319.70" font-size="7.6" text-anchor="middle">LC3</text>
<rect x="148.50" y="273.95" width="14.70" height="37.55" fill="#b7cde9"/>
<rect x="164.80" y="296.10" width="14.70" height="15.40" fill="#cfe6b7"/>
<line x1="155.85" y1="270.57" x2="155.85" y2="277.33" stroke="#6d9bd8" stroke-width="1.0"/>
<line x1="151.85" y1="270.57" x2="159.85" y2="270.57" stroke="#6d9bd8" stroke-width="1.0"/>
<line x1="151.85" y1="277.33" x2="159.85" y2="277.33" stroke="#6d9bd8" stroke-width="1.0"/>
<line x1="172.15" y1="294.98" x2="172.15" y2="297.23" stroke="#b3d88f" stroke-width="1.0"/>
<line x1="168.15" y1="294.98" x2="176.15" y2="294.98" stroke="#b3d88f" stroke-width="1.0"/>
<line x1="168.15" y1="297.23" x2="176.15" y2="297.23" stroke="#b3d88f" stroke-width="1.0"/>
<circle cx="155.85" cy="270.57" r="1.40" fill="#6d9bd8"/>
<circle cx="155.85" cy="273.95" r="1.40" fill="#6d9bd8"/>
<circle cx="155.85" cy="277.33" r="1.40" fill="#6d9bd8"/>
<path d="M167.95 293.44L169.35 296.10L166.55 296.10Z" fill="#b3d88f"/>
<path d="M172.15 294.56L173.55 297.22L170.75 297.22Z" fill="#b3d88f"/>
<path d="M176.35 295.69L177.75 298.35L174.95 298.35Z" fill="#b3d88f"/>
<text x="164.00" y="319.70" font-size="7.6" text-anchor="middle">WIPI</text>
<rect x="188.60" y="273.95" width="14.70" height="37.55" fill="#b7cde9"/>
<rect x="204.90" y="263.06" width="14.70" height="48.44" fill="#cfe6b7"/>
<line x1="195.95" y1="268.69" x2="195.95" y2="278.46" stroke="#6d9bd8" stroke-width="1.0"/>
<line x1="191.95" y1="268.69" x2="199.95" y2="268.69" stroke="#6d9bd8" stroke-width="1.0"/>
<line x1="191.95" y1="278.46" x2="199.95" y2="278.46" stroke="#6d9bd8" stroke-width="1.0"/>
<line x1="212.25" y1="261.56" x2="212.25" y2="263.81" stroke="#b3d88f" stroke-width="1.0"/>
<line x1="208.25" y1="261.56" x2="216.25" y2="261.56" stroke="#b3d88f" stroke-width="1.0"/>
<line x1="208.25" y1="263.81" x2="216.25" y2="263.81" stroke="#b3d88f" stroke-width="1.0"/>
<circle cx="195.95" cy="268.69" r="1.40" fill="#6d9bd8"/>
<circle cx="195.95" cy="273.95" r="1.40" fill="#6d9bd8"/>
<circle cx="195.95" cy="278.46" r="1.40" fill="#6d9bd8"/>
<path d="M208.05 260.02L209.45 262.68L206.65 262.68Z" fill="#b3d88f"/>
<path d="M212.25 261.52L213.65 264.18L210.85 264.18Z" fill="#b3d88f"/>
<path d="M216.45 262.27L217.85 264.93L215.05 264.93Z" fill="#b3d88f"/>
<text x="204.10" y="319.70" font-size="7.6" text-anchor="middle">Beclin1</text>
<rect x="228.70" y="273.95" width="14.70" height="37.55" fill="#b7cde9"/>
<rect x="245.00" y="269.82" width="14.70" height="41.68" fill="#cfe6b7"/>
<line x1="236.05" y1="270.19" x2="236.05" y2="277.33" stroke="#6d9bd8" stroke-width="1.0"/>
<line x1="232.05" y1="270.19" x2="240.05" y2="270.19" stroke="#6d9bd8" stroke-width="1.0"/>
<line x1="232.05" y1="277.33" x2="240.05" y2="277.33" stroke="#6d9bd8" stroke-width="1.0"/>
<line x1="252.35" y1="264.19" x2="252.35" y2="276.58" stroke="#b3d88f" stroke-width="1.0"/>
<line x1="248.35" y1="264.19" x2="256.35" y2="264.19" stroke="#b3d88f" stroke-width="1.0"/>
<line x1="248.35" y1="276.58" x2="256.35" y2="276.58" stroke="#b3d88f" stroke-width="1.0"/>
<circle cx="236.05" cy="270.19" r="1.40" fill="#6d9bd8"/>
<circle cx="236.05" cy="273.95" r="1.40" fill="#6d9bd8"/>
<circle cx="236.05" cy="277.33" r="1.40" fill="#6d9bd8"/>
<path d="M252.35 262.65L253.75 265.31L250.95 265.31Z" fill="#b3d88f"/>
<path d="M252.35 268.28L253.75 270.94L250.95 270.94Z" fill="#b3d88f"/>
<path d="M252.35 275.04L253.75 277.70L250.95 277.70Z" fill="#b3d88f"/>
<text x="244.20" y="319.70" font-size="7.6" text-anchor="middle">ATG5</text>
<rect x="268.80" y="273.95" width="14.70" height="37.55" fill="#b7cde9"/>
<rect x="285.10" y="278.46" width="14.70" height="33.04" fill="#cfe6b7"/>
<line x1="276.15" y1="265.69" x2="276.15" y2="281.84" stroke="#6d9bd8" stroke-width="1.0"/>
<line x1="272.15" y1="265.69" x2="280.15" y2="265.69" stroke="#6d9bd8" stroke-width="1.0"/>
<line x1="272.15" y1="281.84" x2="280.15" y2="281.84" stroke="#6d9bd8" stroke-width="1.0"/>
<line x1="292.45" y1="276.58" x2="292.45" y2="279.58" stroke="#b3d88f" stroke-width="1.0"/>
<line x1="288.45" y1="276.58" x2="296.45" y2="276.58" stroke="#b3d88f" stroke-width="1.0"/>
<line x1="288.45" y1="279.58" x2="296.45" y2="279.58" stroke="#b3d88f" stroke-width="1.0"/>
<circle cx="276.15" cy="265.69" r="1.40" fill="#6d9bd8"/>
<circle cx="276.15" cy="273.95" r="1.40" fill="#6d9bd8"/>
<circle cx="276.15" cy="281.84" r="1.40" fill="#6d9bd8"/>
<path d="M288.25 275.04L289.65 277.70L286.85 277.70Z" fill="#b3d88f"/>
<path d="M292.45 276.92L293.85 279.58L291.05 279.58Z" fill="#b3d88f"/>
<path d="M296.65 278.04L298.05 280.70L295.25 280.70Z" fill="#b3d88f"/>
<text x="284.30" y="319.70" font-size="7.6" text-anchor="middle">p62</text>
<path d="M76.50 252.50V246.90H95.70V252.50" fill="none" stroke="#1a1a1a" stroke-width="1.15"/>
<text x="86.10" y="242.50" font-size="8.2" text-anchor="middle">ns</text>
<path d="M111.80 236.70V231.10H131.00V236.70" fill="none" stroke="#1a1a1a" stroke-width="1.15"/>
<text x="121.40" y="226.70" font-size="8.2" text-anchor="middle">ns</text>
<path d="M155.30 254.10V248.50H174.80V254.10" fill="none" stroke="#1a1a1a" stroke-width="1.15"/>
<path d="M162.18 239.20L162.18 243.80M160.18 240.35L164.17 242.65M164.17 240.35L160.18 242.65" stroke="#000" stroke-width="1.25" fill="none"/>
<path d="M167.93 239.20L167.93 243.80M165.93 240.35L169.92 242.65M169.92 240.35L165.93 242.65" stroke="#000" stroke-width="1.25" fill="none"/>
<path d="M196.10 244.20V238.60H215.80V244.20" fill="none" stroke="#1a1a1a" stroke-width="1.15"/>
<path d="M205.95 229.30L205.95 233.90M203.96 230.45L207.94 232.75M207.94 230.45L203.96 232.75" stroke="#000" stroke-width="1.25" fill="none"/>
<path d="M233.50 247.90V242.30H252.60V247.90" fill="none" stroke="#1a1a1a" stroke-width="1.15"/>
<text x="243.05" y="237.90" font-size="8.2" text-anchor="middle">ns</text>
<path d="M279.70 248.30V242.70H299.10V248.30" fill="none" stroke="#1a1a1a" stroke-width="1.15"/>
<text x="289.40" y="238.30" font-size="8.2" text-anchor="middle">ns</text>
<line x1="59.80" y1="311.50" x2="308.00" y2="311.50" stroke="#222" stroke-width="1.3"/>
<line x1="83.80" y1="311.50" x2="83.80" y2="307.50" stroke="#222" stroke-width="1.3"/>
<line x1="123.90" y1="311.50" x2="123.90" y2="307.50" stroke="#222" stroke-width="1.3"/>
<line x1="164.00" y1="311.50" x2="164.00" y2="307.50" stroke="#222" stroke-width="1.3"/>
<line x1="204.10" y1="311.50" x2="204.10" y2="307.50" stroke="#222" stroke-width="1.3"/>
<line x1="244.20" y1="311.50" x2="244.20" y2="307.50" stroke="#222" stroke-width="1.3"/>
<line x1="284.30" y1="311.50" x2="284.30" y2="307.50" stroke="#222" stroke-width="1.3"/>
<circle cx="295.10" cy="252.80" r="1.60" fill="#6d9bd8"/>
<text x="305.60" y="256.00" font-size="8.5">WT</text>
<path d="M295.10 264.35L296.60 267.20L293.60 267.20Z" fill="#b3d88f"/>
<text x="305.60" y="268.90" font-size="8.5">KO</text>
<text x="16.60" y="339.00" font-size="8.5">d</text>
<text x="183.30" y="332.00" font-size="8.3" text-anchor="middle">30J/m<tspan font-size="6" dy="-3.3">2</tspan></text>
<line x1="59.60" y1="347.60" x2="59.60" y2="424.40" stroke="#222" stroke-width="1.3"/>
<line x1="59.60" y1="423.80" x2="64.10" y2="423.80" stroke="#222" stroke-width="1.3"/>
<text x="58.40" y="426.30" font-size="7.2" fill="#222" text-anchor="end">0.0</text>
<line x1="59.60" y1="398.60" x2="64.10" y2="398.60" stroke="#222" stroke-width="1.3"/>
<text x="58.40" y="401.10" font-size="7.2" fill="#222" text-anchor="end">0.5</text>
<line x1="59.60" y1="373.40" x2="64.10" y2="373.40" stroke="#222" stroke-width="1.3"/>
<text x="58.40" y="375.90" font-size="7.2" fill="#222" text-anchor="end">1.0</text>
<line x1="59.60" y1="348.20" x2="64.10" y2="348.20" stroke="#222" stroke-width="1.3"/>
<text x="58.40" y="350.70" font-size="7.2" fill="#222" text-anchor="end">1.5</text>
<text x="45" y="386" font-size="7.9" text-anchor="middle" transform="rotate(-90 45 386)">Relative Expression</text>
<rect x="67.30" y="373.40" width="14.70" height="50.40" fill="#b7cde9"/>
<rect x="83.60" y="362.82" width="14.70" height="60.98" fill="#cfe6b7"/>
<line x1="74.65" y1="368.36" x2="74.65" y2="377.94" stroke="#6d9bd8" stroke-width="1.0"/>
<line x1="70.65" y1="368.36" x2="78.65" y2="368.36" stroke="#6d9bd8" stroke-width="1.0"/>
<line x1="70.65" y1="377.94" x2="78.65" y2="377.94" stroke="#6d9bd8" stroke-width="1.0"/>
<line x1="90.95" y1="361.81" x2="90.95" y2="363.82" stroke="#b3d88f" stroke-width="1.0"/>
<line x1="86.95" y1="361.81" x2="94.95" y2="361.81" stroke="#b3d88f" stroke-width="1.0"/>
<line x1="86.95" y1="363.82" x2="94.95" y2="363.82" stroke="#b3d88f" stroke-width="1.0"/>
<circle cx="74.65" cy="368.36" r="1.40" fill="#6d9bd8"/>
<circle cx="74.65" cy="373.40" r="1.40" fill="#6d9bd8"/>
<circle cx="74.65" cy="377.94" r="1.40" fill="#6d9bd8"/>
<path d="M86.75 360.27L88.15 362.93L85.35 362.93Z" fill="#b3d88f"/>
<path d="M90.95 361.28L92.35 363.94L89.55 363.94Z" fill="#b3d88f"/>
<path d="M95.15 362.28L96.55 364.94L93.75 364.94Z" fill="#b3d88f"/>
<text x="82.80" y="432.00" font-size="7.6" text-anchor="middle">ATG9B</text>
<rect x="107.40" y="373.40" width="14.70" height="50.40" fill="#b7cde9"/>
<rect x="123.70" y="370.88" width="14.70" height="52.92" fill="#cfe6b7"/>
<line x1="114.75" y1="365.34" x2="114.75" y2="381.46" stroke="#6d9bd8" stroke-width="1.0"/>
<line x1="110.75" y1="365.34" x2="118.75" y2="365.34" stroke="#6d9bd8" stroke-width="1.0"/>
<line x1="110.75" y1="381.46" x2="118.75" y2="381.46" stroke="#6d9bd8" stroke-width="1.0"/>
<line x1="131.05" y1="366.85" x2="131.05" y2="375.42" stroke="#b3d88f" stroke-width="1.0"/>
<line x1="127.05" y1="366.85" x2="135.05" y2="366.85" stroke="#b3d88f" stroke-width="1.0"/>
<line x1="127.05" y1="375.42" x2="135.05" y2="375.42" stroke="#b3d88f" stroke-width="1.0"/>
<circle cx="114.75" cy="365.34" r="1.40" fill="#6d9bd8"/>
<circle cx="114.75" cy="373.40" r="1.40" fill="#6d9bd8"/>
<circle cx="114.75" cy="381.46" r="1.40" fill="#6d9bd8"/>
<path d="M131.05 365.31L132.45 367.97L129.65 367.97Z" fill="#b3d88f"/>
<path d="M131.05 369.34L132.45 372.00L129.65 372.00Z" fill="#b3d88f"/>
<path d="M131.05 373.88L132.45 376.54L129.65 376.54Z" fill="#b3d88f"/>
<text x="122.90" y="432.00" font-size="7.6" text-anchor="middle">LC3</text>
<rect x="147.50" y="373.40" width="14.70" height="50.40" fill="#b7cde9"/>
<rect x="163.80" y="360.80" width="14.70" height="63.00" fill="#cfe6b7"/>
<line x1="154.85" y1="372.39" x2="154.85" y2="374.41" stroke="#6d9bd8" stroke-width="1.0"/>
<line x1="150.85" y1="372.39" x2="158.85" y2="372.39" stroke="#6d9bd8" stroke-width="1.0"/>
<line x1="150.85" y1="374.41" x2="158.85" y2="374.41" stroke="#6d9bd8" stroke-width="1.0"/>
<line x1="171.15" y1="354.25" x2="171.15" y2="366.85" stroke="#b3d88f" stroke-width="1.0"/>
<line x1="167.15" y1="354.25" x2="175.15" y2="354.25" stroke="#b3d88f" stroke-width="1.0"/>
<line x1="167.15" y1="366.85" x2="175.15" y2="366.85" stroke="#b3d88f" stroke-width="1.0"/>
<circle cx="150.65" cy="372.39" r="1.40" fill="#6d9bd8"/>
<circle cx="154.85" cy="373.40" r="1.40" fill="#6d9bd8"/>
<circle cx="159.05" cy="374.41" r="1.40" fill="#6d9bd8"/>
<path d="M171.15 352.71L172.55 355.37L169.75 355.37Z" fill="#b3d88f"/>
<path d="M171.15 359.26L172.55 361.92L169.75 361.92Z" fill="#b3d88f"/>
<path d="M171.15 365.31L172.55 367.97L169.75 367.97Z" fill="#b3d88f"/>
<text x="163.00" y="432.00" font-size="7.6" text-anchor="middle">WIPI</text>
<rect x="187.60" y="373.40" width="14.70" height="50.40" fill="#b7cde9"/>
<rect x="203.90" y="399.10" width="14.70" height="24.70" fill="#cfe6b7"/>
<line x1="194.95" y1="372.90" x2="194.95" y2="373.90" stroke="#6d9bd8" stroke-width="1.0"/>
<line x1="190.95" y1="372.90" x2="198.95" y2="372.90" stroke="#6d9bd8" stroke-width="1.0"/>
<line x1="190.95" y1="373.90" x2="198.95" y2="373.90" stroke="#6d9bd8" stroke-width="1.0"/>
<line x1="211.25" y1="395.58" x2="211.25" y2="402.63" stroke="#b3d88f" stroke-width="1.0"/>
<line x1="207.25" y1="395.58" x2="215.25" y2="395.58" stroke="#b3d88f" stroke-width="1.0"/>
<line x1="207.25" y1="402.63" x2="215.25" y2="402.63" stroke="#b3d88f" stroke-width="1.0"/>
<circle cx="190.75" cy="372.90" r="1.40" fill="#6d9bd8"/>
<circle cx="194.95" cy="373.40" r="1.40" fill="#6d9bd8"/>
<circle cx="199.15" cy="373.90" r="1.40" fill="#6d9bd8"/>
<path d="M211.25 394.04L212.65 396.70L209.85 396.70Z" fill="#b3d88f"/>
<path d="M211.25 397.56L212.65 400.22L209.85 400.22Z" fill="#b3d88f"/>
<path d="M211.25 401.09L212.65 403.75L209.85 403.75Z" fill="#b3d88f"/>
<text x="203.10" y="432.00" font-size="7.6" text-anchor="middle">Beclin1</text>
<rect x="227.70" y="373.40" width="14.70" height="50.40" fill="#b7cde9"/>
<rect x="244.00" y="397.59" width="14.70" height="26.21" fill="#cfe6b7"/>
<line x1="235.05" y1="371.38" x2="235.05" y2="377.43" stroke="#6d9bd8" stroke-width="1.0"/>
<line x1="231.05" y1="371.38" x2="239.05" y2="371.38" stroke="#6d9bd8" stroke-width="1.0"/>
<line x1="231.05" y1="377.43" x2="239.05" y2="377.43" stroke="#6d9bd8" stroke-width="1.0"/>
<line x1="251.35" y1="394.57" x2="251.35" y2="399.10" stroke="#b3d88f" stroke-width="1.0"/>
<line x1="247.35" y1="394.57" x2="255.35" y2="394.57" stroke="#b3d88f" stroke-width="1.0"/>
<line x1="247.35" y1="399.10" x2="255.35" y2="399.10" stroke="#b3d88f" stroke-width="1.0"/>
<circle cx="235.05" cy="371.38" r="1.40" fill="#6d9bd8"/>
<circle cx="235.05" cy="373.40" r="1.40" fill="#6d9bd8"/>
<circle cx="235.05" cy="377.43" r="1.40" fill="#6d9bd8"/>
<path d="M251.35 393.03L252.75 395.69L249.95 395.69Z" fill="#b3d88f"/>
<path d="M251.35 396.05L252.75 398.71L249.95 398.71Z" fill="#b3d88f"/>
<path d="M251.35 397.56L252.75 400.22L249.95 400.22Z" fill="#b3d88f"/>
<text x="243.20" y="432.00" font-size="7.6" text-anchor="middle">ATG5</text>
<rect x="267.80" y="373.40" width="14.70" height="50.40" fill="#b7cde9"/>
<rect x="284.10" y="387.51" width="14.70" height="36.29" fill="#cfe6b7"/>
<line x1="275.15" y1="363.32" x2="275.15" y2="381.46" stroke="#6d9bd8" stroke-width="1.0"/>
<line x1="271.15" y1="363.32" x2="279.15" y2="363.32" stroke="#6d9bd8" stroke-width="1.0"/>
<line x1="271.15" y1="381.46" x2="279.15" y2="381.46" stroke="#6d9bd8" stroke-width="1.0"/>
<line x1="291.45" y1="380.96" x2="291.45" y2="393.06" stroke="#b3d88f" stroke-width="1.0"/>
<line x1="287.45" y1="380.96" x2="295.45" y2="380.96" stroke="#b3d88f" stroke-width="1.0"/>
<line x1="287.45" y1="393.06" x2="295.45" y2="393.06" stroke="#b3d88f" stroke-width="1.0"/>
<circle cx="275.15" cy="363.32" r="1.40" fill="#6d9bd8"/>
<circle cx="275.15" cy="373.40" r="1.40" fill="#6d9bd8"/>
<circle cx="275.15" cy="381.46" r="1.40" fill="#6d9bd8"/>
<path d="M291.45 379.42L292.85 382.08L290.05 382.08Z" fill="#b3d88f"/>
<path d="M291.45 385.97L292.85 388.63L290.05 388.63Z" fill="#b3d88f"/>
<path d="M291.45 391.52L292.85 394.18L290.05 394.18Z" fill="#b3d88f"/>
<text x="283.30" y="432.00" font-size="7.6" text-anchor="middle">p62</text>
<path d="M74.30 352.80V347.20H93.80V352.80" fill="none" stroke="#1a1a1a" stroke-width="1.15"/>
<text x="84.05" y="342.80" font-size="8.2" text-anchor="middle">ns</text>
<path d="M115.40 360.80V355.20H134.60V360.80" fill="none" stroke="#1a1a1a" stroke-width="1.15"/>
<text x="125.00" y="350.80" font-size="8.2" text-anchor="middle">ns</text>
<path d="M154.60 352.80V347.20H173.60V352.80" fill="none" stroke="#1a1a1a" stroke-width="1.15"/>
<text x="164.10" y="342.80" font-size="8.2" text-anchor="middle">ns</text>
<path d="M198.30 367.10V361.50H217.50V367.10" fill="none" stroke="#1a1a1a" stroke-width="1.15"/>
<text x="207.90" y="357.10" font-size="8.2" text-anchor="middle">ns</text>
<path d="M235.90 366.90V361.30H255.10V366.90" fill="none" stroke="#1a1a1a" stroke-width="1.15"/>
<path d="M239.75 352.00L239.75 356.60M237.76 353.15L241.74 355.45M241.74 353.15L237.76 355.45" stroke="#000" stroke-width="1.25" fill="none"/>
<path d="M245.50 352.00L245.50 356.60M243.51 353.15L247.49 355.45M247.49 353.15L243.51 355.45" stroke="#000" stroke-width="1.25" fill="none"/>
<path d="M251.25 352.00L251.25 356.60M249.26 353.15L253.24 355.45M253.24 353.15L249.26 355.45" stroke="#000" stroke-width="1.25" fill="none"/>
<path d="M276.10 356.60V351.00H295.50V356.60" fill="none" stroke="#1a1a1a" stroke-width="1.15"/>
<text x="285.80" y="346.60" font-size="8.2" text-anchor="middle">ns</text>
<line x1="59.00" y1="423.80" x2="307.40" y2="423.80" stroke="#222" stroke-width="1.3"/>
<line x1="82.80" y1="423.80" x2="82.80" y2="419.80" stroke="#222" stroke-width="1.3"/>
<line x1="122.90" y1="423.80" x2="122.90" y2="419.80" stroke="#222" stroke-width="1.3"/>
<line x1="163.00" y1="423.80" x2="163.00" y2="419.80" stroke="#222" stroke-width="1.3"/>
<line x1="203.10" y1="423.80" x2="203.10" y2="419.80" stroke="#222" stroke-width="1.3"/>
<line x1="243.20" y1="423.80" x2="243.20" y2="419.80" stroke="#222" stroke-width="1.3"/>
<line x1="283.30" y1="423.80" x2="283.30" y2="419.80" stroke="#222" stroke-width="1.3"/>
<circle cx="295.50" cy="360.70" r="1.60" fill="#6d9bd8"/>
<text x="305.60" y="363.80" font-size="8.5">WT</text>
<path d="M295.50 372.75L297.00 375.60L294.00 375.60Z" fill="#b3d88f"/>
<text x="305.60" y="377.20" font-size="8.5">KO</text>
<text x="351.80" y="222.60" font-size="7.6">e</text>
<rect x="409.60" y="200.40" width="86.70" height="5.30" fill="#e27b3a"/>
<text x="402.80" y="205.40" font-size="8.1" fill="#111" text-anchor="end">SMPDL3B</text>
<rect x="409.60" y="210.17" width="86.70" height="5.30" fill="#e27b3a"/>
<text x="402.80" y="215.17" font-size="8.1" fill="#111" text-anchor="end">SRRM3</text>
<rect x="409.60" y="219.94" width="87.00" height="5.30" fill="#e27b3a"/>
<text x="402.80" y="224.94" font-size="8.1" fill="#111" text-anchor="end">CERS4</text>
<rect x="409.60" y="229.71" width="87.00" height="5.30" fill="#e27b3a"/>
<text x="402.80" y="234.71" font-size="8.1" fill="#111" text-anchor="end">BNIP3L</text>
<rect x="409.60" y="239.48" width="87.00" height="5.30" fill="#e27b3a"/>
<text x="402.80" y="244.48" font-size="8.1" fill="#111" text-anchor="end">PPARA</text>
<rect x="409.60" y="249.25" width="92.30" height="5.30" fill="#e27b3a"/>
<text x="402.80" y="254.25" font-size="8.1" fill="#111" text-anchor="end">NMNAT1</text>
<rect x="409.60" y="259.02" width="99.00" height="5.30" fill="#e27b3a"/>
<text x="402.80" y="264.02" font-size="8.1" fill="#111" text-anchor="end">ACAA2</text>
<rect x="409.60" y="268.79" width="99.40" height="5.30" fill="#e27b3a"/>
<text x="402.80" y="273.79" font-size="8.1" fill="#111" text-anchor="end">MYADM</text>
<rect x="409.60" y="278.56" width="101.20" height="5.30" fill="#e27b3a"/>
<text x="402.80" y="283.56" font-size="8.1" fill="#111" text-anchor="end">ACSL5</text>
<rect x="409.60" y="288.33" width="102.00" height="5.30" fill="#e27b3a"/>
<text x="402.80" y="293.33" font-size="8.1" fill="#111" text-anchor="end">BNIP3</text>
<rect x="409.60" y="298.10" width="111.60" height="5.30" fill="#e27b3a"/>
<text x="402.80" y="303.10" font-size="8.1" fill="#111" text-anchor="end">PLAT</text>
<rect x="409.60" y="307.87" width="117.80" height="5.30" fill="#e27b3a"/>
<text x="402.80" y="312.87" font-size="8.1" fill="#111" text-anchor="end">SLC25A42</text>
<rect x="409.60" y="317.64" width="118.30" height="5.30" fill="#e27b3a"/>
<text x="402.80" y="322.64" font-size="8.1" fill="#111" text-anchor="end">PLA2G16</text>
<rect x="409.60" y="327.41" width="126.60" height="5.30" fill="#e27b3a"/>
<text x="402.80" y="332.41" font-size="8.1" fill="#111" text-anchor="end">DAPK2</text>
<rect x="409.60" y="337.18" width="128.20" height="5.30" fill="#e27b3a"/>
<text x="402.80" y="342.18" font-size="8.1" fill="#111" text-anchor="end">DNAJC22</text>
<rect x="409.60" y="346.95" width="141.60" height="5.30" fill="#e27b3a"/>
<text x="402.80" y="351.95" font-size="8.1" fill="#111" text-anchor="end">FOLR1</text>
<rect x="409.60" y="356.72" width="148.90" height="5.30" fill="#e27b3a"/>
<text x="402.80" y="361.72" font-size="8.1" fill="#111" text-anchor="end">TGM2</text>
<rect x="409.60" y="366.49" width="156.70" height="5.30" fill="#e27b3a"/>
<text x="402.80" y="371.49" font-size="8.1" fill="#111" text-anchor="end">ITM2A</text>
<rect x="409.60" y="376.26" width="167.60" height="5.30" fill="#e27b3a"/>
<text x="402.80" y="381.26" font-size="8.1" fill="#111" text-anchor="end">CYP4F11</text>
<rect x="409.60" y="386.03" width="177.90" height="5.30" fill="#e27b3a"/>
<text x="402.80" y="391.03" font-size="8.1" fill="#111" text-anchor="end">ACSS3</text>
<rect x="409.60" y="395.80" width="188.80" height="5.30" fill="#e27b3a"/>
<text x="402.80" y="400.80" font-size="8.1" fill="#111" text-anchor="end">PLBD1</text>
<rect x="409.60" y="405.57" width="204.90" height="5.30" fill="#e27b3a"/>
<text x="402.80" y="410.57" font-size="8.1" fill="#111" text-anchor="end">TIAF1</text>
<rect x="409.60" y="415.34" width="235.10" height="5.30" fill="#e27b3a"/>
<text x="402.80" y="420.34" font-size="8.1" fill="#111" text-anchor="end">AK7</text>
<rect x="409.60" y="425.11" width="238.00" height="5.30" fill="#e27b3a"/>
<text x="402.80" y="430.11" font-size="8.1" fill="#111" text-anchor="end">PLEKHS1</text>
<rect x="409.60" y="434.88" width="248.90" height="5.30" fill="#e27b3a"/>
<text x="402.80" y="439.88" font-size="8.1" fill="#111" text-anchor="end">LRP2</text>
<line x1="409.30" y1="198.00" x2="409.30" y2="442.60" stroke="#111" stroke-width="1.1"/>
<line x1="408.80" y1="442.10" x2="669.80" y2="442.10" stroke="#111" stroke-width="1.1"/>
<line x1="409.30" y1="442.10" x2="409.30" y2="439.60" stroke="#111" stroke-width="1.1"/>
<text x="409.00" y="454.80" font-size="8.4" fill="#111" text-anchor="middle">0.0</text>
<line x1="452.67" y1="442.10" x2="452.67" y2="439.60" stroke="#111" stroke-width="1.1"/>
<text x="452.37" y="454.80" font-size="8.4" fill="#111" text-anchor="middle">0.5</text>
<line x1="496.03" y1="442.10" x2="496.03" y2="439.60" stroke="#111" stroke-width="1.1"/>
<text x="495.73" y="454.80" font-size="8.4" fill="#111" text-anchor="middle">1.0</text>
<line x1="539.39" y1="442.10" x2="539.39" y2="439.60" stroke="#111" stroke-width="1.1"/>
<text x="539.10" y="454.80" font-size="8.4" fill="#111" text-anchor="middle">1.5</text>
<line x1="582.76" y1="442.10" x2="582.76" y2="439.60" stroke="#111" stroke-width="1.1"/>
<text x="582.46" y="454.80" font-size="8.4" fill="#111" text-anchor="middle">2.0</text>
<line x1="626.12" y1="442.10" x2="626.12" y2="439.60" stroke="#111" stroke-width="1.1"/>
<text x="625.83" y="454.80" font-size="8.4" fill="#111" text-anchor="middle">2.5</text>
<line x1="669.49" y1="442.10" x2="669.49" y2="439.60" stroke="#111" stroke-width="1.1"/>
<text x="669.19" y="454.80" font-size="8.4" fill="#111" text-anchor="middle">3.0</text>
<text x="0" y="0" font-size="9.6" font-weight="normal" fill="#222" transform="translate(505.6 466.7) scale(1.1 1)">Log<tspan font-size="7" dy="2">2</tspan><tspan dy="-2">(FC)</tspan></text>
<path d="M350 383.8H364.0V380.0L372.0 387.4L364.0 394.7V391.1H350Z" fill="#f41c12"/>
<text x="17.50" y="455.40" font-size="8">f</text>
<text x="96.00" y="454.00" font-size="8.3" text-anchor="middle">ACSS3</text>
<line x1="39.00" y1="459.90" x2="39.00" y2="554.70" stroke="#222" stroke-width="1.3"/>
<line x1="39.00" y1="554.10" x2="43.50" y2="554.10" stroke="#222" stroke-width="1.3"/>
<text x="37.80" y="556.60" font-size="7.2" fill="#222" text-anchor="end">0.0</text>
<line x1="39.00" y1="522.90" x2="43.50" y2="522.90" stroke="#222" stroke-width="1.3"/>
<text x="37.80" y="525.40" font-size="7.2" fill="#222" text-anchor="end">5.0</text>
<line x1="39.00" y1="491.70" x2="43.50" y2="491.70" stroke="#222" stroke-width="1.3"/>
<text x="37.80" y="494.20" font-size="7.2" fill="#222" text-anchor="end">10.0</text>
<line x1="39.00" y1="460.50" x2="43.50" y2="460.50" stroke="#222" stroke-width="1.3"/>
<text x="37.80" y="463.00" font-size="7.2" fill="#222" text-anchor="end">15.0</text>
<text x="19.2" y="507.5" font-size="8.1" text-anchor="middle" transform="rotate(-90 19.2 507.5)">Relative mRNA Expression</text>
<rect x="46.20" y="547.42" width="14.00" height="6.68" fill="#b7cde9"/>
<line x1="53.20" y1="546.61" x2="53.20" y2="548.17" stroke="#6d9bd8" stroke-width="1.0"/>
<line x1="48.90" y1="546.61" x2="57.50" y2="546.61" stroke="#6d9bd8" stroke-width="1.0"/>
<line x1="48.90" y1="548.17" x2="57.50" y2="548.17" stroke="#6d9bd8" stroke-width="1.0"/>
<circle cx="49.70" cy="547.86" r="1.10" fill="#6d9bd8"/>
<circle cx="53.20" cy="547.24" r="1.10" fill="#6d9bd8"/>
<circle cx="56.70" cy="547.55" r="1.10" fill="#6d9bd8"/>
<rect x="61.80" y="543.99" width="14.00" height="10.11" fill="#cfe6b7"/>
<line x1="68.80" y1="537.00" x2="68.80" y2="550.98" stroke="#b3d88f" stroke-width="1.0"/>
<line x1="64.50" y1="537.00" x2="73.10" y2="537.00" stroke="#b3d88f" stroke-width="1.0"/>
<line x1="64.50" y1="550.98" x2="73.10" y2="550.98" stroke="#b3d88f" stroke-width="1.0"/>
<path d="M65.30 543.53L66.40 545.62L64.20 545.62Z" fill="#b3d88f"/>
<path d="M68.80 546.65L69.90 548.74L67.70 548.74Z" fill="#b3d88f"/>
<path d="M72.30 538.54L73.40 540.63L71.20 540.63Z" fill="#b3d88f"/>
<rect x="77.00" y="533.20" width="14.00" height="20.90" fill="#e8f08f"/>
<line x1="84.00" y1="532.26" x2="84.00" y2="534.13" stroke="#dbe54c" stroke-width="1.0"/>
<line x1="79.70" y1="532.26" x2="88.30" y2="532.26" stroke="#dbe54c" stroke-width="1.0"/>
<line x1="79.70" y1="534.13" x2="88.30" y2="534.13" stroke="#dbe54c" stroke-width="1.0"/>
<rect x="79.40" y="533.03" width="2.20" height="2.20" fill="#dbe54c"/>
<rect x="82.90" y="531.78" width="2.20" height="2.20" fill="#dbe54c"/>
<rect x="86.40" y="531.78" width="2.20" height="2.20" fill="#dbe54c"/>
<rect x="100.30" y="545.36" width="14.00" height="8.74" fill="#b7cde9"/>
<line x1="107.30" y1="537.25" x2="107.30" y2="552.23" stroke="#6d9bd8" stroke-width="1.0"/>
<line x1="103.00" y1="537.25" x2="111.60" y2="537.25" stroke="#6d9bd8" stroke-width="1.0"/>
<line x1="103.00" y1="552.23" x2="111.60" y2="552.23" stroke="#6d9bd8" stroke-width="1.0"/>
<circle cx="103.80" cy="537.88" r="1.10" fill="#6d9bd8"/>
<circle cx="107.30" cy="548.48" r="1.10" fill="#6d9bd8"/>
<circle cx="110.80" cy="547.24" r="1.10" fill="#6d9bd8"/>
<rect x="115.60" y="503.56" width="14.00" height="50.54" fill="#cfe6b7"/>
<line x1="122.60" y1="494.20" x2="122.60" y2="514.16" stroke="#b3d88f" stroke-width="1.0"/>
<line x1="118.30" y1="494.20" x2="126.90" y2="494.20" stroke="#b3d88f" stroke-width="1.0"/>
<line x1="118.30" y1="514.16" x2="126.90" y2="514.16" stroke="#b3d88f" stroke-width="1.0"/>
<path d="M119.10 501.72L120.20 503.81L118.00 503.81Z" fill="#b3d88f"/>
<path d="M122.60 492.36L123.70 494.45L121.50 494.45Z" fill="#b3d88f"/>
<path d="M126.10 512.33L127.20 514.42L125.00 514.42Z" fill="#b3d88f"/>
<rect x="131.20" y="532.26" width="14.00" height="21.84" fill="#e8f08f"/>
<line x1="138.20" y1="518.53" x2="138.20" y2="547.24" stroke="#dbe54c" stroke-width="1.0"/>
<line x1="133.90" y1="518.53" x2="142.50" y2="518.53" stroke="#dbe54c" stroke-width="1.0"/>
<line x1="133.90" y1="547.24" x2="142.50" y2="547.24" stroke="#dbe54c" stroke-width="1.0"/>
<rect x="133.60" y="521.80" width="2.20" height="2.20" fill="#dbe54c"/>
<rect x="137.10" y="524.92" width="2.20" height="2.20" fill="#dbe54c"/>
<rect x="140.60" y="546.76" width="2.20" height="2.20" fill="#dbe54c"/>
<line x1="38.40" y1="554.10" x2="152.90" y2="554.10" stroke="#222" stroke-width="1.3"/>
<line x1="68.80" y1="554.10" x2="68.80" y2="550.10" stroke="#222" stroke-width="1.3"/>
<line x1="122.60" y1="554.10" x2="122.60" y2="550.10" stroke="#222" stroke-width="1.3"/>
<path d="M53.80 506.50V500.80H68.80V506.50" fill="none" stroke="#1a1a1a" stroke-width="1.15"/>
<path d="M58.42 491.50L58.42 496.10M56.43 492.65L60.42 494.95M60.42 492.65L56.43 494.95" stroke="#000" stroke-width="1.25" fill="none"/>
<path d="M64.17 491.50L64.17 496.10M62.18 492.65L66.17 494.95M66.17 492.65L62.18 494.95" stroke="#000" stroke-width="1.25" fill="none"/>
<path d="M53.80 488.50V482.80H84.00V488.50" fill="none" stroke="#1a1a1a" stroke-width="1.15"/>
<path d="M63.15 473.50L63.15 478.10M61.16 474.65L65.14 476.95M65.14 474.65L61.16 476.95" stroke="#000" stroke-width="1.25" fill="none"/>
<path d="M68.90 473.50L68.90 478.10M66.91 474.65L70.89 476.95M70.89 474.65L66.91 476.95" stroke="#000" stroke-width="1.25" fill="none"/>
<path d="M74.65 473.50L74.65 478.10M72.66 474.65L76.64 476.95M76.64 474.65L72.66 476.95" stroke="#000" stroke-width="1.25" fill="none"/>
<path d="M107.10 487.40V482.30H122.60V487.40" fill="none" stroke="#1a1a1a" stroke-width="1.15"/>
<path d="M111.97 473.00L111.97 477.60M109.98 474.15L113.97 476.45M113.97 474.15L109.98 476.45" stroke="#000" stroke-width="1.25" fill="none"/>
<path d="M117.72 473.00L117.72 477.60M115.73 474.15L119.72 476.45M119.72 474.15L115.73 476.45" stroke="#000" stroke-width="1.25" fill="none"/>
<path d="M107.10 467.40V461.60H137.60V467.40" fill="none" stroke="#1a1a1a" stroke-width="1.15"/>
<path d="M122.35 452.30L122.35 456.90M120.36 453.45L124.34 455.75M124.34 453.45L120.36 455.75" stroke="#000" stroke-width="1.25" fill="none"/>
<text x="68.70" y="564.40" font-size="8.0" text-anchor="middle">0J/m<tspan font-size="5.8" dy="-3.2">2</tspan></text>
<text x="122.30" y="563.80" font-size="8.0" text-anchor="middle">30J/m<tspan font-size="5.8" dy="-3.2">2</tspan></text>
<circle cx="141.10" cy="477.10" r="1.60" fill="#6d9bd8"/>
<text x="152.30" y="480.20" font-size="8.5">WT</text>
<path d="M141.10 486.85L142.60 489.70L139.60 489.70Z" fill="#b3d88f"/>
<text x="152.30" y="491.60" font-size="8.5">Het</text>
<rect x="139.70" y="498.40" width="2.80" height="2.80" fill="#dbe54c"/>
<text x="152.30" y="502.90" font-size="8.5">KO</text>
<text x="177.20" y="458.10" font-size="8">g</text>
<line x1="208.60" y1="469.71" x2="208.60" y2="555.00" stroke="#222" stroke-width="1.3"/>
<line x1="208.60" y1="554.40" x2="213.10" y2="554.40" stroke="#222" stroke-width="1.3"/>
<text x="207.40" y="556.90" font-size="7.2" fill="#222" text-anchor="end">0.0</text>
<line x1="208.60" y1="526.37" x2="213.10" y2="526.37" stroke="#222" stroke-width="1.3"/>
<text x="207.40" y="528.87" font-size="7.2" fill="#222" text-anchor="end">1.0</text>
<line x1="208.60" y1="498.34" x2="213.10" y2="498.34" stroke="#222" stroke-width="1.3"/>
<text x="207.40" y="500.84" font-size="7.2" fill="#222" text-anchor="end">2.0</text>
<line x1="208.60" y1="470.31" x2="213.10" y2="470.31" stroke="#222" stroke-width="1.3"/>
<text x="207.40" y="472.81" font-size="7.2" fill="#222" text-anchor="end">3.0</text>
<text x="192.5" y="512.5" font-size="7.9" text-anchor="middle" transform="rotate(-90 192.5 512.5)">Relative ACSS3 level</text>
<rect x="215.80" y="526.37" width="14.10" height="28.03" fill="#b7cde9"/>
<circle cx="219.30" cy="526.37" r="1.10" fill="#6d9bd8"/>
<circle cx="222.80" cy="526.37" r="1.10" fill="#6d9bd8"/>
<circle cx="226.30" cy="526.37" r="1.10" fill="#6d9bd8"/>
<rect x="231.40" y="509.55" width="14.10" height="44.85" fill="#e8f08f"/>
<line x1="238.40" y1="507.31" x2="238.40" y2="510.95" stroke="#dbe54c" stroke-width="1.0"/>
<line x1="234.10" y1="507.31" x2="242.70" y2="507.31" stroke="#dbe54c" stroke-width="1.0"/>
<line x1="234.10" y1="510.95" x2="242.70" y2="510.95" stroke="#dbe54c" stroke-width="1.0"/>
<rect x="233.80" y="508.45" width="2.20" height="2.20" fill="#dbe54c"/>
<rect x="237.30" y="507.89" width="2.20" height="2.20" fill="#dbe54c"/>
<rect x="240.80" y="509.01" width="2.20" height="2.20" fill="#dbe54c"/>
<rect x="247.30" y="517.96" width="14.10" height="36.44" fill="#cfe6b7"/>
<line x1="254.30" y1="512.36" x2="254.30" y2="523.57" stroke="#b3d88f" stroke-width="1.0"/>
<line x1="250.00" y1="512.36" x2="258.60" y2="512.36" stroke="#b3d88f" stroke-width="1.0"/>
<line x1="250.00" y1="523.57" x2="258.60" y2="523.57" stroke="#b3d88f" stroke-width="1.0"/>
<path d="M250.80 516.75L251.90 518.84L249.70 518.84Z" fill="#b3d88f"/>
<path d="M254.30 512.55L255.40 514.64L253.20 514.64Z" fill="#b3d88f"/>
<path d="M257.80 520.96L258.90 523.05L256.70 523.05Z" fill="#b3d88f"/>
<rect x="270.00" y="512.36" width="14.10" height="42.04" fill="#b7cde9"/>
<line x1="277.00" y1="504.51" x2="277.00" y2="520.76" stroke="#6d9bd8" stroke-width="1.0"/>
<line x1="272.70" y1="504.51" x2="281.30" y2="504.51" stroke="#6d9bd8" stroke-width="1.0"/>
<line x1="272.70" y1="520.76" x2="281.30" y2="520.76" stroke="#6d9bd8" stroke-width="1.0"/>
<circle cx="273.50" cy="515.16" r="1.10" fill="#6d9bd8"/>
<circle cx="277.00" cy="510.95" r="1.10" fill="#6d9bd8"/>
<circle cx="280.50" cy="505.35" r="1.10" fill="#6d9bd8"/>
<rect x="285.50" y="484.89" width="14.10" height="69.51" fill="#e8f08f"/>
<line x1="292.50" y1="478.16" x2="292.50" y2="491.61" stroke="#dbe54c" stroke-width="1.0"/>
<line x1="288.20" y1="478.16" x2="296.80" y2="478.16" stroke="#dbe54c" stroke-width="1.0"/>
<line x1="288.20" y1="491.61" x2="296.80" y2="491.61" stroke="#dbe54c" stroke-width="1.0"/>
<rect x="287.90" y="483.22" width="2.20" height="2.20" fill="#dbe54c"/>
<rect x="291.40" y="477.62" width="2.20" height="2.20" fill="#dbe54c"/>
<rect x="294.90" y="488.83" width="2.20" height="2.20" fill="#dbe54c"/>
<rect x="301.10" y="497.22" width="14.10" height="57.18" fill="#cfe6b7"/>
<line x1="308.10" y1="492.73" x2="308.10" y2="501.98" stroke="#b3d88f" stroke-width="1.0"/>
<line x1="303.80" y1="492.73" x2="312.40" y2="492.73" stroke="#b3d88f" stroke-width="1.0"/>
<line x1="303.80" y1="501.98" x2="312.40" y2="501.98" stroke="#b3d88f" stroke-width="1.0"/>
<path d="M304.60 497.13L305.70 499.22L303.50 499.22Z" fill="#b3d88f"/>
<path d="M308.10 492.93L309.20 495.02L307.00 495.02Z" fill="#b3d88f"/>
<path d="M311.60 499.93L312.70 502.02L310.50 502.02Z" fill="#b3d88f"/>
<line x1="208.00" y1="554.40" x2="322.60" y2="554.40" stroke="#222" stroke-width="1.3"/>
<line x1="238.50" y1="554.40" x2="238.50" y2="550.40" stroke="#222" stroke-width="1.3"/>
<line x1="292.60" y1="554.40" x2="292.60" y2="550.40" stroke="#222" stroke-width="1.3"/>
<path d="M216.40 496.30V490.50H231.40V496.30" fill="none" stroke="#1a1a1a" stroke-width="1.15"/>
<path d="M218.15 481.20L218.15 485.80M216.16 482.35L220.14 484.65M220.14 482.35L216.16 484.65" stroke="#000" stroke-width="1.25" fill="none"/>
<path d="M223.90 481.20L223.90 485.80M221.91 482.35L225.89 484.65M225.89 482.35L221.91 484.65" stroke="#000" stroke-width="1.25" fill="none"/>
<path d="M229.65 481.20L229.65 485.80M227.66 482.35L231.64 484.65M231.64 482.35L227.66 484.65" stroke="#000" stroke-width="1.25" fill="none"/>
<path d="M219.10 478.60V473.00H258.20V478.60" fill="none" stroke="#1a1a1a" stroke-width="1.15"/>
<path d="M238.65 463.70L238.65 468.30M236.66 464.85L240.64 467.15M240.64 464.85L236.66 467.15" stroke="#000" stroke-width="1.25" fill="none"/>
<path d="M275.80 475.50V470.50H293.70V475.50" fill="none" stroke="#1a1a1a" stroke-width="1.15"/>
<path d="M281.88 461.20L281.88 465.80M279.88 462.35L283.87 464.65M283.87 462.35L279.88 464.65" stroke="#000" stroke-width="1.25" fill="none"/>
<path d="M287.62 461.20L287.62 465.80M285.63 462.35L289.62 464.65M289.62 462.35L285.63 464.65" stroke="#000" stroke-width="1.25" fill="none"/>
<path d="M270.20 460.60V456.10H308.10V460.60" fill="none" stroke="#1a1a1a" stroke-width="1.15"/>
<path d="M289.15 446.80L289.15 451.40M287.16 447.95L291.14 450.25M291.14 447.95L287.16 450.25" stroke="#000" stroke-width="1.25" fill="none"/>
<text x="238.20" y="563.80" font-size="8.0" text-anchor="middle">0J/m<tspan font-size="5.8" dy="-3.2">2</tspan></text>
<text x="292.20" y="563.80" font-size="8.0" text-anchor="middle">30J/m<tspan font-size="5.8" dy="-3.2">2</tspan></text>
<circle cx="314.50" cy="464.30" r="1.60" fill="#6d9bd8"/>
<text x="325.10" y="467.40" font-size="8.5">WT</text>
<rect x="313.10" y="474.10" width="2.80" height="2.80" fill="#dbe54c"/>
<text x="325.10" y="478.60" font-size="8.5">KO</text>
<path d="M314.50 487.45L316.00 490.30L313.00 490.30Z" fill="#b3d88f"/>
<text x="325.10" y="492.20" font-size="8.5">Het</text>
<text x="25.80" y="585.30" font-size="8">h</text>
<text x="86.3" y="581.4" font-size="8" text-anchor="middle"><tspan font-style="italic">ACSS3</tspan> locus</text>
<text x="81.00" y="593.60" font-size="8" text-anchor="middle">-1228</text>
<text x="130.50" y="588.60" font-size="8" text-anchor="middle">TSS</text>
<line x1="35.00" y1="600.20" x2="138.40" y2="600.20" stroke="#111" stroke-width="1.2"/>
<path d="M121.1 600.2V591.9H143" fill="none" stroke="#111" stroke-width="1.1"/>
<path d="M145 591.9L140.5 589.7V594.1Z" fill="#111"/>
<path d="M83.9 595.3L88 600.2L83.9 605.1L79.8 600.2Z" fill="#4a76c8"/>
<line x1="63.50" y1="611.60" x2="75.50" y2="604.60" stroke="#111" stroke-width="1.1"/>
<line x1="90.90" y1="604.60" x2="102.50" y2="611.60" stroke="#111" stroke-width="1.1"/>
<text x="83.70" y="621.50" font-size="8" text-anchor="middle">...TAACCAGTCC...</text>
<line x1="65.70" y1="623.80" x2="96.30" y2="623.80" stroke="#999" stroke-width="0.9"/>
<text x="188.50" y="585.90" font-size="7.9" text-anchor="end">ACSS3</text>
<text x="188.50" y="599.50" font-size="7.9" text-anchor="end">GAPDH</text>
<defs><filter id="bl" x="-20%" y="-100%" width="140%" height="300%"><feGaussianBlur stdDeviation="0.7 0.5"/></filter></defs>
<rect x="190.60" y="574.40" width="137.40" height="12.60" fill="#f7f7f7" stroke="#111" stroke-width="1.25"/>
<rect x="190.60" y="589.90" width="137.40" height="12.90" fill="#f7f7f7" stroke="#111" stroke-width="1.25"/>
<rect x="194.3" y="578.80" width="16.8" height="2.40" rx="1.20" fill="#b0b0b0" filter="url(#bl)"/>
<rect x="216.4" y="578.50" width="17.8" height="3.00" rx="1.50" fill="#808080" filter="url(#bl)"/>
<rect x="239.0" y="578.60" width="18.0" height="2.80" rx="1.40" fill="#909090" filter="url(#bl)"/>
<rect x="262.6" y="578.70" width="16.8" height="2.60" rx="1.30" fill="#606060" filter="url(#bl)"/>
<rect x="284.7" y="578.30" width="18.9" height="3.40" rx="1.70" fill="#262626" filter="url(#bl)"/>
<rect x="307.8" y="578.40" width="18.7" height="3.20" rx="1.60" fill="#3a3a3a" filter="url(#bl)"/>
<rect x="262.6" y="575.6" width="16.8" height="1.6" fill="#d6d6d6" filter="url(#bl)"/>
<rect x="284.7" y="575.6" width="18.9" height="1.6" fill="#c8c8c8" filter="url(#bl)"/>
<rect x="307.8" y="575.6" width="18.7" height="1.6" fill="#d0d0d0" filter="url(#bl)"/>
<rect x="194.3" y="594.6" width="17.2" height="4.3" rx="2.1" fill="#0c0c0c" filter="url(#bl)"/>
<rect x="216.4" y="594.6" width="17.8" height="4.3" rx="2.1" fill="#0c0c0c" filter="url(#bl)"/>
<rect x="238.0" y="594.6" width="18.3" height="4.3" rx="2.1" fill="#0c0c0c" filter="url(#bl)"/>
<rect x="261.2" y="594.6" width="17.2" height="4.3" rx="2.1" fill="#0c0c0c" filter="url(#bl)"/>
<rect x="283.6" y="594.6" width="17.9" height="4.3" rx="2.1" fill="#0c0c0c" filter="url(#bl)"/>
<rect x="305.7" y="594.6" width="18.9" height="4.3" rx="2.1" fill="#0c0c0c" filter="url(#bl)"/>
<text x="205.00" y="610.80" font-size="7.9" text-anchor="middle">WT</text>
<text x="228.70" y="610.80" font-size="7.9" text-anchor="middle">KO</text>
<text x="249.40" y="610.80" font-size="7.9" text-anchor="middle">Het</text>
<text x="272.90" y="610.80" font-size="7.9" text-anchor="middle">WT</text>
<text x="294.50" y="610.80" font-size="7.9" text-anchor="middle">KO</text>
<text x="316.60" y="610.80" font-size="7.9" text-anchor="middle">Het</text>
<line x1="194.20" y1="613.20" x2="256.80" y2="613.20" stroke="#111" stroke-width="1.1"/>
<line x1="265.30" y1="613.20" x2="326.80" y2="613.20" stroke="#111" stroke-width="1.1"/>
<text x="231.90" y="622.00" font-size="8.3" text-anchor="middle">0J/m<tspan font-size="6" dy="-3.2">2</tspan></text>
<text x="300.10" y="622.00" font-size="8.3" text-anchor="middle">30J/m<tspan font-size="6" dy="-3.2">2</tspan></text>
<line x1="329.50" y1="580.60" x2="337.50" y2="580.60" stroke="#111" stroke-width="1.1"/>
<line x1="329.50" y1="596.00" x2="337.50" y2="596.00" stroke="#111" stroke-width="1.1"/>
<text x="339.00" y="583.50" font-size="7.9">75kDa</text>
<text x="339.00" y="599.00" font-size="7.9">37kDa</text>
<text x="375.00" y="486.60" font-size="8">i</text>
<text x="447.20" y="490.20" font-size="8.1" text-anchor="middle">BCL11A enrichment at</text>
<text x="447.2" y="499" font-size="8.1" text-anchor="middle"><tspan font-style="italic">ACSS3</tspan> promoter</text>
<line x1="400.30" y1="516.00" x2="400.30" y2="612.80" stroke="#222" stroke-width="1.3"/>
<line x1="400.30" y1="612.20" x2="404.80" y2="612.20" stroke="#222" stroke-width="1.3"/>
<text x="399.10" y="614.70" font-size="7.2" fill="#222" text-anchor="end">0.0</text>
<line x1="400.30" y1="593.08" x2="404.80" y2="593.08" stroke="#222" stroke-width="1.3"/>
<text x="399.10" y="595.58" font-size="7.2" fill="#222" text-anchor="end">2.0</text>
<line x1="400.30" y1="573.96" x2="404.80" y2="573.96" stroke="#222" stroke-width="1.3"/>
<text x="399.10" y="576.46" font-size="7.2" fill="#222" text-anchor="end">4.0</text>
<line x1="400.30" y1="554.84" x2="404.80" y2="554.84" stroke="#222" stroke-width="1.3"/>
<text x="399.10" y="557.34" font-size="7.2" fill="#222" text-anchor="end">6.0</text>
<line x1="400.30" y1="535.72" x2="404.80" y2="535.72" stroke="#222" stroke-width="1.3"/>
<text x="399.10" y="538.22" font-size="7.2" fill="#222" text-anchor="end">8.0</text>
<line x1="400.30" y1="516.60" x2="404.80" y2="516.60" stroke="#222" stroke-width="1.3"/>
<text x="399.10" y="519.10" font-size="7.2" fill="#222" text-anchor="end">10.0</text>
<text x="380.6" y="563" font-size="8.1" text-anchor="middle" transform="rotate(-90 380.6 563)">Fold changes (normalized to Input)</text>
<rect x="408.40" y="602.83" width="15.80" height="9.37" fill="#b7cde9"/>
<line x1="416.30" y1="600.73" x2="416.30" y2="604.74" stroke="#6d9bd8" stroke-width="1.0"/>
<line x1="411.80" y1="600.73" x2="420.80" y2="600.73" stroke="#6d9bd8" stroke-width="1.0"/>
<line x1="411.80" y1="604.74" x2="420.80" y2="604.74" stroke="#6d9bd8" stroke-width="1.0"/>
<circle cx="412.40" cy="603.60" r="1.10" fill="#6d9bd8"/>
<circle cx="416.40" cy="602.64" r="1.10" fill="#6d9bd8"/>
<circle cx="420.40" cy="601.68" r="1.10" fill="#6d9bd8"/>
<rect x="426.30" y="599.77" width="15.80" height="12.43" fill="#cfe6b7"/>
<line x1="434.20" y1="598.82" x2="434.20" y2="600.73" stroke="#b3d88f" stroke-width="1.0"/>
<line x1="429.70" y1="598.82" x2="438.70" y2="598.82" stroke="#b3d88f" stroke-width="1.0"/>
<line x1="429.70" y1="600.73" x2="438.70" y2="600.73" stroke="#b3d88f" stroke-width="1.0"/>
<path d="M430.30 599.04L431.40 601.13L429.20 601.13Z" fill="#b3d88f"/>
<path d="M434.30 598.08L435.40 600.17L433.20 600.17Z" fill="#b3d88f"/>
<path d="M438.30 598.56L439.40 600.65L437.20 600.65Z" fill="#b3d88f"/>
<rect x="451.80" y="602.83" width="15.80" height="9.37" fill="#b7cde9"/>
<line x1="459.70" y1="600.92" x2="459.70" y2="604.55" stroke="#6d9bd8" stroke-width="1.0"/>
<line x1="455.20" y1="600.92" x2="464.20" y2="600.92" stroke="#6d9bd8" stroke-width="1.0"/>
<line x1="455.20" y1="604.55" x2="464.20" y2="604.55" stroke="#6d9bd8" stroke-width="1.0"/>
<circle cx="455.80" cy="603.60" r="1.10" fill="#6d9bd8"/>
<circle cx="459.80" cy="602.16" r="1.10" fill="#6d9bd8"/>
<circle cx="463.80" cy="602.64" r="1.10" fill="#6d9bd8"/>
<rect x="469.60" y="533.81" width="15.80" height="78.39" fill="#cfe6b7"/>
<line x1="477.50" y1="525.68" x2="477.50" y2="541.46" stroke="#b3d88f" stroke-width="1.0"/>
<line x1="473.00" y1="525.68" x2="482.00" y2="525.68" stroke="#b3d88f" stroke-width="1.0"/>
<line x1="473.00" y1="541.46" x2="482.00" y2="541.46" stroke="#b3d88f" stroke-width="1.0"/>
<path d="M473.60 531.64L474.70 533.73L472.50 533.73Z" fill="#b3d88f"/>
<path d="M477.60 524.95L478.70 527.04L476.50 527.04Z" fill="#b3d88f"/>
<path d="M481.60 540.25L482.70 542.34L480.50 542.34Z" fill="#b3d88f"/>
<line x1="399.70" y1="612.20" x2="487.50" y2="612.20" stroke="#222" stroke-width="1.3"/>
<line x1="425.20" y1="612.20" x2="425.20" y2="608.20" stroke="#222" stroke-width="1.3"/>
<line x1="468.70" y1="612.20" x2="468.70" y2="608.20" stroke="#222" stroke-width="1.3"/>
<path d="M433.90 521.70V515.90H477.30V521.70" fill="none" stroke="#1a1a1a" stroke-width="1.15"/>
<path d="M452.73 506.60L452.73 511.20M450.73 507.75L454.72 510.05M454.72 507.75L450.73 510.05" stroke="#000" stroke-width="1.25" fill="none"/>
<path d="M458.48 506.60L458.48 511.20M456.48 507.75L460.47 510.05M460.47 507.75L456.48 510.05" stroke="#000" stroke-width="1.25" fill="none"/>
<circle cx="413.00" cy="533.70" r="1.60" fill="#6d9bd8"/>
<text x="423.70" y="536.80" font-size="8.2">IgG</text>
<path d="M413.00 544.85L414.50 547.70L411.50 547.70Z" fill="#b3d88f"/>
<text x="423.70" y="549.60" font-size="8.2">BCL11A</text>
<text x="425.20" y="620.60" font-size="7.9" text-anchor="middle">NC</text>
<text x="468.50" y="620.60" font-size="7.9" text-anchor="middle">BCL11A</text>
<text x="512.50" y="485.30" font-size="8">j</text>
<text x="601.80" y="485.20" font-size="8.1" text-anchor="middle">BCL11A enrichment at</text>
<text x="601.8" y="494.3" font-size="8.1" text-anchor="middle"><tspan font-style="italic">ACSS3</tspan> promoter</text>
<line x1="527.00" y1="506.90" x2="527.00" y2="615.30" stroke="#222" stroke-width="1.3"/>
<line x1="527.00" y1="614.70" x2="531.50" y2="614.70" stroke="#222" stroke-width="1.3"/>
<text x="525.80" y="617.20" font-size="7.2" fill="#222" text-anchor="end">0.0</text>
<line x1="527.00" y1="587.90" x2="531.50" y2="587.90" stroke="#222" stroke-width="1.3"/>
<text x="525.80" y="590.40" font-size="7.2" fill="#222" text-anchor="end">1.0</text>
<line x1="527.00" y1="561.10" x2="531.50" y2="561.10" stroke="#222" stroke-width="1.3"/>
<text x="525.80" y="563.60" font-size="7.2" fill="#222" text-anchor="end">2.0</text>
<line x1="527.00" y1="534.30" x2="531.50" y2="534.30" stroke="#222" stroke-width="1.3"/>
<text x="525.80" y="536.80" font-size="7.2" fill="#222" text-anchor="end">3.0</text>
<line x1="527.00" y1="507.50" x2="531.50" y2="507.50" stroke="#222" stroke-width="1.3"/>
<text x="525.80" y="510.00" font-size="7.2" fill="#222" text-anchor="end">4.0</text>
<text x="511.6" y="562.5" font-size="8.1" text-anchor="middle" transform="rotate(-90 511.6 562.5)">Fold changes (normalized to Input)</text>
<rect x="535.90" y="587.90" width="17.40" height="26.80" fill="#b7cde9"/>
<line x1="544.60" y1="586.29" x2="544.60" y2="589.51" stroke="#6d9bd8" stroke-width="1.0"/>
<line x1="540.10" y1="586.29" x2="549.10" y2="586.29" stroke="#6d9bd8" stroke-width="1.0"/>
<line x1="540.10" y1="589.51" x2="549.10" y2="589.51" stroke="#6d9bd8" stroke-width="1.0"/>
<circle cx="540.40" cy="588.44" r="1.10" fill="#6d9bd8"/>
<circle cx="544.60" cy="587.36" r="1.10" fill="#6d9bd8"/>
<circle cx="548.80" cy="586.56" r="1.10" fill="#6d9bd8"/>
<rect x="555.60" y="536.98" width="17.40" height="77.72" fill="#cfe6b7"/>
<line x1="564.30" y1="528.14" x2="564.30" y2="546.63" stroke="#b3d88f" stroke-width="1.0"/>
<line x1="559.80" y1="528.14" x2="568.80" y2="528.14" stroke="#b3d88f" stroke-width="1.0"/>
<line x1="559.80" y1="546.63" x2="568.80" y2="546.63" stroke="#b3d88f" stroke-width="1.0"/>
<path d="M560.10 535.77L561.20 537.86L559.00 537.86Z" fill="#b3d88f"/>
<path d="M564.30 527.73L565.40 529.82L563.20 529.82Z" fill="#b3d88f"/>
<path d="M568.50 543.81L569.60 545.90L567.40 545.90Z" fill="#b3d88f"/>
<rect x="583.60" y="587.90" width="17.40" height="26.80" fill="#b7cde9"/>
<line x1="592.30" y1="584.68" x2="592.30" y2="591.12" stroke="#6d9bd8" stroke-width="1.0"/>
<line x1="587.80" y1="584.68" x2="596.80" y2="584.68" stroke="#6d9bd8" stroke-width="1.0"/>
<line x1="587.80" y1="591.12" x2="596.80" y2="591.12" stroke="#6d9bd8" stroke-width="1.0"/>
<circle cx="588.10" cy="585.22" r="1.10" fill="#6d9bd8"/>
<circle cx="592.30" cy="590.58" r="1.10" fill="#6d9bd8"/>
<circle cx="596.50" cy="587.90" r="1.10" fill="#6d9bd8"/>
<rect x="603.10" y="601.30" width="17.40" height="13.40" fill="#cfe6b7"/>
<line x1="611.80" y1="598.62" x2="611.80" y2="603.98" stroke="#b3d88f" stroke-width="1.0"/>
<line x1="607.30" y1="598.62" x2="616.30" y2="598.62" stroke="#b3d88f" stroke-width="1.0"/>
<line x1="607.30" y1="603.98" x2="616.30" y2="603.98" stroke="#b3d88f" stroke-width="1.0"/>
<path d="M607.60 600.09L608.70 602.18L606.50 602.18Z" fill="#b3d88f"/>
<path d="M611.80 598.75L612.90 600.84L610.70 600.84Z" fill="#b3d88f"/>
<path d="M616.00 601.43L617.10 603.52L614.90 603.52Z" fill="#b3d88f"/>
<rect x="631.20" y="587.90" width="17.40" height="26.80" fill="#b7cde9"/>
<line x1="639.90" y1="585.22" x2="639.90" y2="590.58" stroke="#6d9bd8" stroke-width="1.0"/>
<line x1="635.40" y1="585.22" x2="644.40" y2="585.22" stroke="#6d9bd8" stroke-width="1.0"/>
<line x1="635.40" y1="590.58" x2="644.40" y2="590.58" stroke="#6d9bd8" stroke-width="1.0"/>
<circle cx="635.70" cy="589.24" r="1.10" fill="#6d9bd8"/>
<circle cx="639.90" cy="586.56" r="1.10" fill="#6d9bd8"/>
<circle cx="644.10" cy="587.90" r="1.10" fill="#6d9bd8"/>
<rect x="649.80" y="606.93" width="17.40" height="7.77" fill="#cfe6b7"/>
<line x1="658.50" y1="606.39" x2="658.50" y2="607.46" stroke="#b3d88f" stroke-width="1.0"/>
<line x1="654.00" y1="606.39" x2="663.00" y2="606.39" stroke="#b3d88f" stroke-width="1.0"/>
<line x1="654.00" y1="607.46" x2="663.00" y2="607.46" stroke="#b3d88f" stroke-width="1.0"/>
<path d="M654.30 605.72L655.40 607.81L653.20 607.81Z" fill="#b3d88f"/>
<path d="M658.50 605.45L659.60 607.54L657.40 607.54Z" fill="#b3d88f"/>
<path d="M662.70 605.99L663.80 608.08L661.60 608.08Z" fill="#b3d88f"/>
<line x1="526.40" y1="614.70" x2="677.10" y2="614.70" stroke="#222" stroke-width="1.3"/>
<line x1="554.80" y1="614.70" x2="554.80" y2="610.70" stroke="#222" stroke-width="1.3"/>
<line x1="602.10" y1="614.70" x2="602.10" y2="610.70" stroke="#222" stroke-width="1.3"/>
<line x1="649.20" y1="614.70" x2="649.20" y2="610.70" stroke="#222" stroke-width="1.3"/>
<path d="M561.50 514.70V510.10H657.20V514.70" fill="none" stroke="#1a1a1a" stroke-width="1.15"/>
<path d="M561.50 525.70V523.10H612.50V525.70" fill="none" stroke="#1a1a1a" stroke-width="1.15"/>
<path d="M607.12 501.50L607.12 506.10M605.13 502.65L609.12 504.95M609.12 502.65L605.13 504.95" stroke="#000" stroke-width="1.25" fill="none"/>
<path d="M612.88 501.50L612.88 506.10M610.88 502.65L614.87 504.95M614.87 502.65L610.88 504.95" stroke="#000" stroke-width="1.25" fill="none"/>
<path d="M586.50 513.80L586.50 518.40M584.51 514.95L588.49 517.25M588.49 514.95L584.51 517.25" stroke="#000" stroke-width="1.25" fill="none"/>
<circle cx="637.00" cy="545.30" r="1.60" fill="#6d9bd8"/>
<text x="648.50" y="548.30" font-size="8.2">IgG</text>
<path d="M637.00 556.95L638.50 559.80L635.50 559.80Z" fill="#b3d88f"/>
<text x="648.50" y="561.60" font-size="8.2">BCL11A</text>
<text x="555.00" y="623.50" font-size="8.15" text-anchor="middle">shNC</text>
<text x="625.60" y="623.50" font-size="8.15" text-anchor="middle">shBCL11A-1shBCL11A-2</text>
</svg></body></html>
